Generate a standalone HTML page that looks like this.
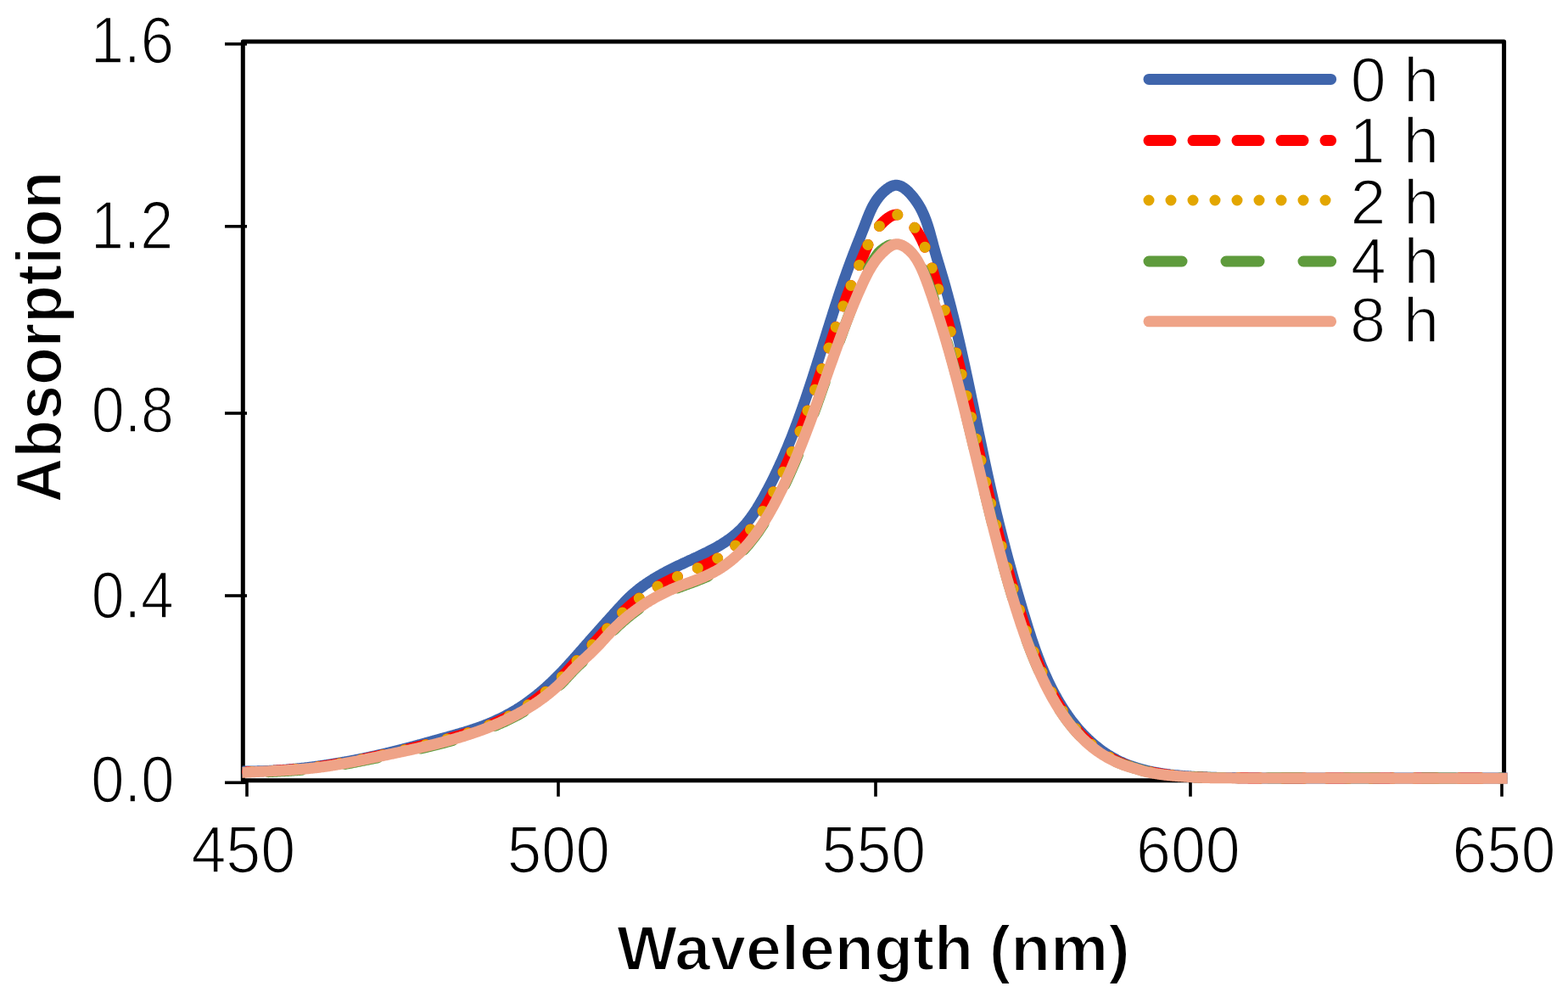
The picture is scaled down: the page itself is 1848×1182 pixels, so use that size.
<!DOCTYPE html>
<html><head><meta charset="utf-8"><style>
html,body{margin:0;padding:0;background:#fff;}
body{width:1848px;height:1182px;overflow:hidden;}
svg{display:block;}
text{font-family:"Liberation Sans", sans-serif;fill:#000;}
</style></head><body>
<svg width="1848" height="1182" viewBox="0 0 1848 1182">
<rect width="1848" height="1182" fill="#fff"/>
<text transform="matrix(0.7072 0 0 0.7768 106.74 73.80)" font-size="100" stroke="#fff" stroke-width="2.2">1.6</text>
<text transform="matrix(0.7000 0 0 0.7912 106.90 293.49)" font-size="100" stroke="#fff" stroke-width="2.2">1.2</text>
<text transform="matrix(0.6992 0 0 0.7667 107.80 508.90)" font-size="100" stroke="#fff" stroke-width="2.2">0.8</text>
<text transform="matrix(0.6969 0 0 0.7725 107.82 727.80)" font-size="100" stroke="#fff" stroke-width="2.2">0.4</text>
<text transform="matrix(0.7054 0 0 0.7725 107.37 944.70)" font-size="100" stroke="#fff" stroke-width="2.2">0.0</text>
<text transform="matrix(0.7365 0 0 0.7797 225.39 1028.00)" font-size="100" stroke="#fff" stroke-width="2.2">450</text>
<text transform="matrix(0.7269 0 0 0.7768 597.74 1027.50)" font-size="100" stroke="#fff" stroke-width="2.2">500</text>
<text transform="matrix(0.7359 0 0 0.7768 968.48 1027.50)" font-size="100" stroke="#fff" stroke-width="2.2">550</text>
<text transform="matrix(0.7353 0 0 0.7768 1338.99 1027.50)" font-size="100" stroke="#fff" stroke-width="2.2">600</text>
<text transform="matrix(0.7314 0 0 0.7768 1711.51 1027.70)" font-size="100" stroke="#fff" stroke-width="2.2">650</text>
<text transform="matrix(0.7538 0 0 0.7467 726.89 1143.27)" font-size="100" font-weight="bold" stroke="#fff" stroke-width="2.6">Wavelength</text>
<text transform="matrix(0.7672 0 0 0.7641 1165.70 1144.02)" font-size="100" font-weight="bold" stroke="#fff" stroke-width="2.6">(nm)</text>
<text transform="matrix(0.7516 0 0 0.7403 1591.64 119.80)" font-size="100" stroke="#fff" stroke-width="2.2">0 h</text>
<text transform="matrix(0.7615 0 0 0.7577 1590.35 191.56)" font-size="100" stroke="#fff" stroke-width="2.2">1 h</text>
<text transform="matrix(0.7528 0 0 0.7493 1591.48 263.75)" font-size="100" stroke="#fff" stroke-width="2.2">2 h</text>
<text transform="matrix(0.7492 0 0 0.7557 1591.95 334.31)" font-size="100" stroke="#fff" stroke-width="2.2">4 h</text>
<text transform="matrix(0.7560 0 0 0.7403 1591.06 403.30)" font-size="100" stroke="#fff" stroke-width="2.2">8 h</text>
<text transform="translate(71.84 592.46) rotate(-90) scale(0.7328 0.7630)" font-size="100" font-weight="bold" stroke="#fff" stroke-width="2.6">Absorption</text>
<!-- frame -->
<rect x="286.3" y="49" width="1486.3" height="870.7" fill="none" stroke="#000" stroke-width="5" stroke-linejoin="round"/>
<g stroke="#000" stroke-width="3.6">
<line x1="265" y1="51.85" x2="291" y2="51.85"/>
<line x1="265" y1="266.8" x2="291" y2="266.8"/>
<line x1="265" y1="487" x2="291" y2="487"/>
<line x1="265" y1="702" x2="291" y2="702"/>
<line x1="265" y1="922.3" x2="291" y2="922.3"/>
<line x1="291" y1="918" x2="291" y2="938.7"/>
<line x1="658" y1="918" x2="658" y2="938.7"/>
<line x1="1032" y1="918" x2="1032" y2="938.7"/>
<line x1="1403" y1="918" x2="1403" y2="938.7"/>
<line x1="1770" y1="918" x2="1770" y2="938.7"/>
</g>
<!-- series -->
<g fill="none" stroke-width="13.0" stroke-linejoin="round">
<path d="M285.5,909.0 L286.0,909.0 L287.0,909.0 L288.0,909.0 L289.0,909.0 L290.0,909.0 L291.0,909.0 L292.0,909.0 L293.0,909.0 L294.0,909.0 L295.0,909.0 L296.0,909.0 L297.0,909.0 L298.0,909.0 L299.0,908.9 L300.0,908.9 L301.0,908.9 L302.0,908.9 L303.0,908.9 L304.0,908.8 L305.0,908.8 L306.0,908.8 L307.0,908.8 L308.0,908.7 L309.0,908.7 L310.0,908.7 L311.0,908.6 L312.0,908.6 L313.0,908.5 L314.0,908.5 L315.0,908.5 L316.0,908.4 L317.0,908.4 L318.0,908.3 L319.0,908.3 L320.0,908.2 L321.0,908.2 L322.0,908.1 L323.0,908.1 L324.0,908.0 L325.0,907.9 L326.0,907.9 L327.0,907.8 L328.0,907.8 L329.0,907.7 L330.0,907.6 L331.0,907.6 L332.0,907.5 L333.0,907.4 L334.0,907.3 L335.0,907.3 L336.0,907.2 L337.0,907.1 L338.0,907.0 L339.0,906.9 L340.0,906.9 L341.0,906.8 L342.0,906.7 L343.0,906.6 L344.0,906.5 L345.0,906.4 L346.0,906.3 L347.0,906.2 L348.0,906.1 L349.0,906.0 L350.0,905.9 L351.0,905.8 L352.0,905.7 L353.0,905.6 L354.0,905.5 L355.0,905.4 L356.0,905.3 L357.0,905.2 L358.0,905.1 L359.0,905.0 L360.0,904.9 L361.0,904.7 L362.0,904.6 L363.0,904.5 L364.0,904.4 L365.0,904.3 L366.0,904.1 L367.0,904.0 L368.0,903.9 L369.0,903.8 L370.0,903.6 L371.0,903.5 L372.0,903.4 L373.0,903.2 L374.0,903.1 L375.0,903.0 L376.0,902.8 L377.0,902.7 L378.0,902.5 L379.0,902.4 L380.0,902.3 L381.0,902.1 L382.0,902.0 L383.0,901.8 L384.0,901.7 L385.0,901.5 L386.0,901.4 L387.0,901.2 L388.0,901.1 L389.0,900.9 L390.0,900.8 L391.0,900.6 L392.0,900.4 L393.0,900.3 L394.0,900.1 L395.0,899.9 L396.0,899.8 L397.0,899.6 L398.0,899.4 L399.0,899.3 L400.0,899.1 L401.0,898.9 L402.0,898.8 L403.0,898.6 L404.0,898.4 L405.0,898.2 L406.0,898.1 L407.0,897.9 L408.0,897.7 L409.0,897.5 L410.0,897.3 L411.0,897.1 L412.0,897.0 L413.0,896.8 L414.0,896.6 L415.0,896.4 L416.0,896.2 L417.0,896.0 L418.0,895.8 L419.0,895.6 L420.0,895.4 L421.0,895.2 L422.0,895.0 L423.0,894.8 L424.0,894.6 L425.0,894.4 L426.0,894.2 L427.0,894.0 L428.0,893.8 L429.0,893.6 L430.0,893.4 L431.0,893.2 L432.0,893.0 L433.0,892.8 L434.0,892.5 L435.0,892.3 L436.0,892.1 L437.0,891.9 L438.0,891.7 L439.0,891.5 L440.0,891.2 L441.0,891.0 L442.0,890.8 L443.0,890.6 L444.0,890.4 L445.0,890.1 L446.0,889.9 L447.0,889.7 L448.0,889.4 L449.0,889.2 L450.0,889.0 L451.0,888.8 L452.0,888.5 L453.0,888.3 L454.0,888.0 L455.0,887.8 L456.0,887.6 L457.0,887.3 L458.0,887.1 L459.0,886.9 L460.0,886.6 L461.0,886.4 L462.0,886.1 L463.0,885.9 L464.0,885.6 L465.0,885.4 L466.0,885.1 L467.0,884.9 L468.0,884.6 L469.0,884.4 L470.0,884.1 L471.0,883.9 L472.0,883.6 L473.0,883.4 L474.0,883.1 L475.0,882.9 L476.0,882.6 L477.0,882.3 L478.0,882.1 L479.0,881.8 L480.0,881.6 L481.0,881.3 L482.0,881.0 L483.0,880.8 L484.0,880.5 L485.0,880.2 L486.0,880.0 L487.0,879.7 L488.0,879.4 L489.0,879.2 L490.0,878.9 L491.0,878.6 L492.0,878.4 L493.0,878.1 L494.0,877.8 L495.0,877.5 L496.0,877.3 L497.0,877.0 L498.0,876.7 L499.0,876.4 L500.0,876.2 L501.0,875.9 L502.0,875.6 L503.0,875.3 L504.0,875.1 L505.0,874.8 L506.0,874.5 L507.0,874.2 L508.0,873.9 L509.0,873.7 L510.0,873.4 L511.0,873.1 L512.0,872.8 L513.0,872.6 L514.0,872.3 L515.0,872.0 L516.0,871.7 L517.0,871.4 L518.0,871.2 L519.0,870.9 L520.0,870.6 L521.0,870.3 L522.0,870.1 L523.0,869.8 L524.0,869.5 L525.0,869.2 L526.0,869.0 L527.0,868.7 L528.0,868.4 L529.0,868.1 L530.0,867.8 L531.0,867.6 L532.0,867.3 L533.0,867.0 L534.0,866.7 L535.0,866.4 L536.0,866.2 L537.0,865.9 L538.0,865.6 L539.0,865.3 L540.0,865.0 L541.0,864.7 L542.0,864.4 L543.0,864.1 L544.0,863.8 L545.0,863.6 L546.0,863.3 L547.0,863.0 L548.0,862.7 L549.0,862.3 L550.0,862.0 L551.0,861.7 L552.0,861.4 L553.0,861.1 L554.0,860.8 L555.0,860.5 L556.0,860.1 L557.0,859.8 L558.0,859.5 L559.0,859.1 L560.0,858.8 L561.0,858.4 L562.0,858.1 L563.0,857.7 L564.0,857.4 L565.0,857.0 L566.0,856.7 L567.0,856.3 L568.0,855.9 L569.0,855.6 L570.0,855.2 L571.0,854.8 L572.0,854.4 L573.0,854.0 L574.0,853.6 L575.0,853.2 L576.0,852.8 L577.0,852.4 L578.0,852.0 L579.0,851.5 L580.0,851.1 L581.0,850.7 L582.0,850.2 L583.0,849.8 L584.0,849.3 L585.0,848.9 L586.0,848.4 L587.0,847.9 L588.0,847.5 L589.0,847.0 L590.0,846.5 L591.0,846.0 L592.0,845.5 L593.0,845.0 L594.0,844.5 L595.0,844.0 L596.0,843.5 L597.0,842.9 L598.0,842.4 L599.0,841.9 L600.0,841.3 L601.0,840.8 L602.0,840.2 L603.0,839.6 L604.0,839.1 L605.0,838.5 L606.0,837.9 L607.0,837.3 L608.0,836.7 L609.0,836.1 L610.0,835.4 L611.0,834.8 L612.0,834.2 L613.0,833.5 L614.0,832.9 L615.0,832.2 L616.0,831.5 L617.0,830.9 L618.0,830.2 L619.0,829.5 L620.0,828.8 L621.0,828.1 L622.0,827.4 L623.0,826.7 L624.0,825.9 L625.0,825.2 L626.0,824.4 L627.0,823.7 L628.0,822.9 L629.0,822.2 L630.0,821.4 L631.0,820.6 L632.0,819.8 L633.0,819.0 L634.0,818.2 L635.0,817.4 L636.0,816.5 L637.0,815.7 L638.0,814.8 L639.0,814.0 L640.0,813.1 L641.0,812.3 L642.0,811.4 L643.0,810.5 L644.0,809.6 L645.0,808.7 L646.0,807.8 L647.0,806.9 L648.0,805.9 L649.0,805.0 L650.0,804.0 L651.0,803.1 L652.0,802.1 L653.0,801.1 L654.0,800.2 L655.0,799.2 L656.0,798.2 L657.0,797.2 L658.0,796.1 L659.0,795.1 L660.0,794.1 L661.0,793.1 L662.0,792.0 L663.0,791.0 L664.0,789.9 L665.0,788.8 L666.0,787.8 L667.0,786.7 L668.0,785.6 L669.0,784.5 L670.0,783.4 L671.0,782.3 L672.0,781.2 L673.0,780.1 L674.0,779.0 L675.0,777.9 L676.0,776.8 L677.0,775.7 L678.0,774.5 L679.0,773.4 L680.0,772.3 L681.0,771.2 L682.0,770.0 L683.0,768.9 L684.0,767.7 L685.0,766.6 L686.0,765.5 L687.0,764.3 L688.0,763.2 L689.0,762.0 L690.0,760.9 L691.0,759.7 L692.0,758.6 L693.0,757.5 L694.0,756.3 L695.0,755.2 L696.0,754.0 L697.0,752.9 L698.0,751.8 L699.0,750.6 L700.0,749.5 L701.0,748.4 L702.0,747.3 L703.0,746.1 L704.0,745.0 L705.0,743.9 L706.0,742.8 L707.0,741.6 L708.0,740.5 L709.0,739.4 L710.0,738.3 L711.0,737.2 L712.0,736.1 L713.0,735.0 L714.0,733.8 L715.0,732.7 L716.0,731.6 L717.0,730.5 L718.0,729.4 L719.0,728.3 L720.0,727.2 L721.0,726.1 L722.0,725.0 L723.0,723.9 L724.0,722.7 L725.0,721.6 L726.0,720.5 L727.0,719.4 L728.0,718.3 L729.0,717.2 L730.0,716.1 L731.0,715.0 L732.0,714.0 L733.0,712.9 L734.0,711.8 L735.0,710.8 L736.0,709.7 L737.0,708.7 L738.0,707.7 L739.0,706.7 L740.0,705.7 L741.0,704.7 L742.0,703.7 L743.0,702.8 L744.0,701.9 L745.0,700.9 L746.0,700.1 L747.0,699.2 L748.0,698.3 L749.0,697.5 L750.0,696.6 L751.0,695.8 L752.0,695.0 L753.0,694.2 L754.0,693.4 L755.0,692.7 L756.0,691.9 L757.0,691.2 L758.0,690.4 L759.0,689.7 L760.0,689.0 L761.0,688.3 L762.0,687.6 L763.0,687.0 L764.0,686.3 L765.0,685.6 L766.0,685.0 L767.0,684.3 L768.0,683.7 L769.0,683.1 L770.0,682.4 L771.0,681.8 L772.0,681.2 L773.0,680.6 L774.0,680.0 L775.0,679.5 L776.0,678.9 L777.0,678.3 L778.0,677.7 L779.0,677.2 L780.0,676.6 L781.0,676.1 L782.0,675.5 L783.0,675.0 L784.0,674.5 L785.0,673.9 L786.0,673.4 L787.0,672.9 L788.0,672.4 L789.0,671.9 L790.0,671.4 L791.0,670.9 L792.0,670.4 L793.0,669.9 L794.0,669.4 L795.0,668.9 L796.0,668.4 L797.0,667.9 L798.0,667.4 L799.0,666.9 L800.0,666.5 L801.0,666.0 L802.0,665.5 L803.0,665.0 L804.0,664.6 L805.0,664.1 L806.0,663.6 L807.0,663.2 L808.0,662.7 L809.0,662.3 L810.0,661.8 L811.0,661.3 L812.0,660.9 L813.0,660.4 L814.0,660.0 L815.0,659.5 L816.0,659.0 L817.0,658.6 L818.0,658.1 L819.0,657.6 L820.0,657.2 L821.0,656.7 L822.0,656.2 L823.0,655.8 L824.0,655.3 L825.0,654.8 L826.0,654.4 L827.0,653.9 L828.0,653.4 L829.0,652.9 L830.0,652.4 L831.0,651.9 L832.0,651.5 L833.0,651.0 L834.0,650.5 L835.0,649.9 L836.0,649.4 L837.0,648.9 L838.0,648.4 L839.0,647.9 L840.0,647.3 L841.0,646.8 L842.0,646.3 L843.0,645.7 L844.0,645.2 L845.0,644.6 L846.0,644.0 L847.0,643.4 L848.0,642.9 L849.0,642.3 L850.0,641.7 L851.0,641.0 L852.0,640.4 L853.0,639.8 L854.0,639.1 L855.0,638.5 L856.0,637.8 L857.0,637.1 L858.0,636.4 L859.0,635.7 L860.0,635.0 L861.0,634.3 L862.0,633.5 L863.0,632.8 L864.0,632.0 L865.0,631.2 L866.0,630.4 L867.0,629.5 L868.0,628.7 L869.0,627.8 L870.0,626.9 L871.0,625.9 L872.0,625.0 L873.0,624.0 L874.0,623.0 L875.0,621.9 L876.0,620.9 L877.0,619.8 L878.0,618.6 L879.0,617.5 L880.0,616.3 L881.0,615.0 L882.0,613.8 L883.0,612.5 L884.0,611.2 L885.0,609.8 L886.0,608.4 L887.0,607.0 L888.0,605.6 L889.0,604.1 L890.0,602.6 L891.0,601.0 L892.0,599.5 L893.0,597.8 L894.0,596.2 L895.0,594.5 L896.0,592.8 L897.0,591.1 L898.0,589.4 L899.0,587.6 L900.0,585.8 L901.0,584.0 L902.0,582.2 L903.0,580.3 L904.0,578.4 L905.0,576.6 L906.0,574.6 L907.0,572.7 L908.0,570.8 L909.0,568.8 L910.0,566.8 L911.0,564.8 L912.0,562.8 L913.0,560.7 L914.0,558.7 L915.0,556.6 L916.0,554.5 L917.0,552.3 L918.0,550.2 L919.0,548.0 L920.0,545.8 L921.0,543.6 L922.0,541.4 L923.0,539.1 L924.0,536.8 L925.0,534.5 L926.0,532.1 L927.0,529.8 L928.0,527.4 L929.0,525.0 L930.0,522.5 L931.0,520.1 L932.0,517.6 L933.0,515.1 L934.0,512.5 L935.0,510.0 L936.0,507.4 L937.0,504.8 L938.0,502.1 L939.0,499.5 L940.0,496.8 L941.0,494.1 L942.0,491.3 L943.0,488.6 L944.0,485.8 L945.0,483.0 L946.0,480.1 L947.0,477.3 L948.0,474.4 L949.0,471.5 L950.0,468.5 L951.0,465.6 L952.0,462.6 L953.0,459.6 L954.0,456.6 L955.0,453.6 L956.0,450.5 L957.0,447.5 L958.0,444.4 L959.0,441.3 L960.0,438.2 L961.0,435.0 L962.0,431.9 L963.0,428.7 L964.0,425.6 L965.0,422.4 L966.0,419.2 L967.0,416.0 L968.0,412.9 L969.0,409.7 L970.0,406.5 L971.0,403.3 L972.0,400.1 L973.0,396.9 L974.0,393.7 L975.0,390.5 L976.0,387.3 L977.0,384.1 L978.0,380.9 L979.0,377.8 L980.0,374.6 L981.0,371.5 L982.0,368.3 L983.0,365.2 L984.0,362.1 L985.0,359.1 L986.0,356.0 L987.0,352.9 L988.0,349.9 L989.0,346.9 L990.0,343.9 L991.0,340.9 L992.0,338.0 L993.0,335.1 L994.0,332.1 L995.0,329.3 L996.0,326.4 L997.0,323.6 L998.0,320.8 L999.0,318.0 L1000.0,315.2 L1001.0,312.5 L1002.0,309.8 L1003.0,307.1 L1004.0,304.4 L1005.0,301.8 L1006.0,299.2 L1007.0,296.6 L1008.0,294.0 L1009.0,291.5 L1010.0,288.9 L1011.0,286.4 L1012.0,283.8 L1013.0,281.3 L1014.0,278.8 L1015.0,276.2 L1016.0,273.7 L1017.0,271.2 L1018.0,268.6 L1019.0,266.0 L1020.0,263.4 L1021.0,260.8 L1022.0,258.2 L1023.0,255.7 L1024.0,253.2 L1025.0,250.8 L1026.0,248.5 L1027.0,246.4 L1028.0,244.3 L1029.0,242.4 L1030.0,240.6 L1031.0,239.0 L1032.0,237.4 L1033.0,235.9 L1034.0,234.5 L1035.0,233.1 L1036.0,231.9 L1037.0,230.7 L1038.0,229.5 L1039.0,228.4 L1040.0,227.4 L1041.0,226.4 L1042.0,225.5 L1043.0,224.6 L1044.0,223.8 L1045.0,223.0 L1046.0,222.2 L1047.0,221.6 L1048.0,220.9 L1049.0,220.3 L1050.0,219.8 L1051.0,219.4 L1052.0,219.0 L1053.0,218.7 L1054.0,218.5 L1055.0,218.3 L1056.0,218.2 L1057.0,218.3 L1058.0,218.4 L1059.0,218.6 L1060.0,218.8 L1061.0,219.2 L1062.0,219.6 L1063.0,220.1 L1064.0,220.7 L1065.0,221.3 L1066.0,222.0 L1067.0,222.8 L1068.0,223.6 L1069.0,224.5 L1070.0,225.4 L1071.0,226.4 L1072.0,227.5 L1073.0,228.5 L1074.0,229.6 L1075.0,230.8 L1076.0,232.0 L1077.0,233.3 L1078.0,234.6 L1079.0,236.0 L1080.0,237.4 L1081.0,238.9 L1082.0,240.4 L1083.0,242.0 L1084.0,243.7 L1085.0,245.5 L1086.0,247.4 L1087.0,249.5 L1088.0,251.6 L1089.0,253.9 L1090.0,256.3 L1091.0,258.9 L1092.0,261.6 L1093.0,264.5 L1094.0,267.7 L1095.0,271.0 L1096.0,274.4 L1097.0,278.1 L1098.0,281.8 L1099.0,285.5 L1100.0,289.3 L1101.0,292.9 L1102.0,296.5 L1103.0,300.0 L1104.0,303.4 L1105.0,306.8 L1106.0,310.1 L1107.0,313.4 L1108.0,316.8 L1109.0,320.1 L1110.0,323.5 L1111.0,326.9 L1112.0,330.4 L1113.0,333.9 L1114.0,337.4 L1115.0,341.0 L1116.0,344.7 L1117.0,348.3 L1118.0,352.1 L1119.0,355.8 L1120.0,359.7 L1121.0,363.5 L1122.0,367.5 L1123.0,371.4 L1124.0,375.4 L1125.0,379.5 L1126.0,383.6 L1127.0,387.8 L1128.0,392.0 L1129.0,396.2 L1130.0,400.5 L1131.0,404.8 L1132.0,409.2 L1133.0,413.6 L1134.0,418.1 L1135.0,422.6 L1136.0,427.1 L1137.0,431.7 L1138.0,436.3 L1139.0,441.0 L1140.0,445.7 L1141.0,450.4 L1142.0,455.1 L1143.0,459.9 L1144.0,464.7 L1145.0,469.5 L1146.0,474.3 L1147.0,479.1 L1148.0,484.0 L1149.0,488.8 L1150.0,493.7 L1151.0,498.5 L1152.0,503.3 L1153.0,508.2 L1154.0,513.0 L1155.0,517.8 L1156.0,522.6 L1157.0,527.4 L1158.0,532.2 L1159.0,536.9 L1160.0,541.6 L1161.0,546.3 L1162.0,550.9 L1163.0,555.6 L1164.0,560.1 L1165.0,564.7 L1166.0,569.2 L1167.0,573.6 L1168.0,578.1 L1169.0,582.4 L1170.0,586.8 L1171.0,591.1 L1172.0,595.3 L1173.0,599.5 L1174.0,603.7 L1175.0,607.8 L1176.0,611.9 L1177.0,616.0 L1178.0,620.0 L1179.0,624.0 L1180.0,628.0 L1181.0,631.9 L1182.0,635.8 L1183.0,639.7 L1184.0,643.5 L1185.0,647.3 L1186.0,651.1 L1187.0,654.9 L1188.0,658.6 L1189.0,662.3 L1190.0,666.0 L1191.0,669.6 L1192.0,673.3 L1193.0,676.9 L1194.0,680.5 L1195.0,684.0 L1196.0,687.6 L1197.0,691.1 L1198.0,694.6 L1199.0,698.0 L1200.0,701.5 L1201.0,704.9 L1202.0,708.4 L1203.0,711.7 L1204.0,715.1 L1205.0,718.5 L1206.0,721.8 L1207.0,725.1 L1208.0,728.4 L1209.0,731.7 L1210.0,735.0 L1211.0,738.2 L1212.0,741.4 L1213.0,744.5 L1214.0,747.6 L1215.0,750.7 L1216.0,753.7 L1217.0,756.6 L1218.0,759.6 L1219.0,762.4 L1220.0,765.3 L1221.0,768.1 L1222.0,770.8 L1223.0,773.5 L1224.0,776.1 L1225.0,778.7 L1226.0,781.3 L1227.0,783.8 L1228.0,786.2 L1229.0,788.6 L1230.0,791.0 L1231.0,793.3 L1232.0,795.6 L1233.0,797.8 L1234.0,800.0 L1235.0,802.2 L1236.0,804.3 L1237.0,806.4 L1238.0,808.4 L1239.0,810.4 L1240.0,812.4 L1241.0,814.3 L1242.0,816.2 L1243.0,818.1 L1244.0,819.9 L1245.0,821.7 L1246.0,823.5 L1247.0,825.2 L1248.0,827.0 L1249.0,828.6 L1250.0,830.3 L1251.0,831.9 L1252.0,833.5 L1253.0,835.1 L1254.0,836.6 L1255.0,838.1 L1256.0,839.6 L1257.0,841.1 L1258.0,842.5 L1259.0,844.0 L1260.0,845.4 L1261.0,846.7 L1262.0,848.1 L1263.0,849.4 L1264.0,850.7 L1265.0,852.0 L1266.0,853.2 L1267.0,854.5 L1268.0,855.7 L1269.0,856.9 L1270.0,858.1 L1271.0,859.3 L1272.0,860.4 L1273.0,861.5 L1274.0,862.6 L1275.0,863.7 L1276.0,864.8 L1277.0,865.8 L1278.0,866.9 L1279.0,867.9 L1280.0,868.9 L1281.0,869.9 L1282.0,870.8 L1283.0,871.8 L1284.0,872.7 L1285.0,873.6 L1286.0,874.5 L1287.0,875.4 L1288.0,876.3 L1289.0,877.2 L1290.0,878.0 L1291.0,878.8 L1292.0,879.6 L1293.0,880.4 L1294.0,881.2 L1295.0,882.0 L1296.0,882.8 L1297.0,883.5 L1298.0,884.3 L1299.0,885.0 L1300.0,885.7 L1301.0,886.4 L1302.0,887.1 L1303.0,887.7 L1304.0,888.4 L1305.0,889.1 L1306.0,889.7 L1307.0,890.3 L1308.0,890.9 L1309.0,891.5 L1310.0,892.1 L1311.0,892.7 L1312.0,893.3 L1313.0,893.8 L1314.0,894.4 L1315.0,894.9 L1316.0,895.5 L1317.0,896.0 L1318.0,896.5 L1319.0,897.0 L1320.0,897.5 L1321.0,898.0 L1322.0,898.4 L1323.0,898.9 L1324.0,899.3 L1325.0,899.8 L1326.0,900.2 L1327.0,900.6 L1328.0,901.0 L1329.0,901.4 L1330.0,901.7 L1331.0,902.1 L1332.0,902.5 L1333.0,902.8 L1334.0,903.1 L1335.0,903.5 L1336.0,903.8 L1337.0,904.1 L1338.0,904.4 L1339.0,904.8 L1340.0,905.1 L1341.0,905.4 L1342.0,905.7 L1343.0,905.9 L1344.0,906.2 L1345.0,906.5 L1346.0,906.8 L1347.0,907.0 L1348.0,907.3 L1349.0,907.6 L1350.0,907.8 L1351.0,908.1 L1352.0,908.3 L1353.0,908.5 L1354.0,908.8 L1355.0,909.0 L1356.0,909.2 L1357.0,909.4 L1358.0,909.6 L1359.0,909.8 L1360.0,910.0 L1361.0,910.2 L1362.0,910.4 L1363.0,910.6 L1364.0,910.7 L1365.0,910.9 L1366.0,911.1 L1367.0,911.3 L1368.0,911.4 L1369.0,911.6 L1370.0,911.8 L1371.0,911.9 L1372.0,912.1 L1373.0,912.2 L1374.0,912.3 L1375.0,912.5 L1376.0,912.6 L1377.0,912.7 L1378.0,912.9 L1379.0,913.0 L1380.0,913.1 L1381.0,913.2 L1382.0,913.3 L1383.0,913.4 L1384.0,913.5 L1385.0,913.6 L1386.0,913.7 L1387.0,913.8 L1388.0,913.8 L1389.0,913.9 L1390.0,914.0 L1391.0,914.1 L1392.0,914.2 L1393.0,914.3 L1394.0,914.4 L1395.0,914.4 L1396.0,914.5 L1397.0,914.6 L1398.0,914.7 L1399.0,914.8 L1400.0,914.8 L1401.0,914.9 L1402.0,915.0 L1403.0,915.1 L1404.0,915.1 L1405.0,915.2 L1406.0,915.3 L1407.0,915.3 L1408.0,915.4 L1409.0,915.5 L1410.0,915.5 L1411.0,915.6 L1412.0,915.6 L1413.0,915.7 L1414.0,915.7 L1415.0,915.8 L1416.0,915.8 L1417.0,915.9 L1418.0,915.9 L1419.0,916.0 L1420.0,916.0 L1421.0,916.1 L1422.0,916.1 L1423.0,916.1 L1424.0,916.2 L1425.0,916.2 L1426.0,916.2 L1427.0,916.2 L1428.0,916.3 L1429.0,916.3 L1430.0,916.3 L1431.0,916.3 L1432.0,916.3 L1433.0,916.3 L1434.0,916.4 L1435.0,916.4 L1436.0,916.4 L1437.0,916.4 L1438.0,916.4 L1439.0,916.4 L1440.0,916.4 L1441.0,916.5 L1442.0,916.5 L1443.0,916.5 L1444.0,916.5 L1445.0,916.5 L1446.0,916.5 L1447.0,916.5 L1448.0,916.6 L1449.0,916.6 L1450.0,916.6 L1451.0,916.6 L1452.0,916.6 L1453.0,916.6 L1454.0,916.6 L1455.0,916.6 L1456.0,916.6 L1457.0,916.7 L1458.0,916.7 L1459.0,916.7 L1460.0,916.7 L1461.0,916.7 L1462.0,916.7 L1463.0,916.7 L1464.0,916.7 L1465.0,916.7 L1466.0,916.7 L1467.0,916.7 L1468.0,916.7 L1469.0,916.8 L1470.0,916.8 L1471.0,916.8 L1472.0,916.8 L1473.0,916.8 L1474.0,916.8 L1475.0,916.8 L1476.0,916.8 L1477.0,916.8 L1478.0,916.8 L1479.0,916.8 L1480.0,916.8 L1481.0,916.8 L1482.0,916.8 L1483.0,916.8 L1484.0,916.8 L1485.0,916.9 L1486.0,916.9 L1487.0,916.9 L1488.0,916.9 L1489.0,916.9 L1490.0,916.9 L1491.0,916.9 L1492.0,916.9 L1493.0,916.9 L1494.0,916.9 L1495.0,916.9 L1496.0,916.9 L1497.0,916.9 L1498.0,916.9 L1499.0,916.9 L1500.0,916.9 L1501.0,916.9 L1502.0,916.9 L1503.0,916.9 L1504.0,916.9 L1505.0,916.9 L1506.0,916.9 L1507.0,916.9 L1508.0,916.9 L1509.0,916.9 L1510.0,916.9 L1511.0,916.9 L1512.0,916.9 L1513.0,916.9 L1514.0,916.9 L1515.0,916.9 L1516.0,916.9 L1517.0,916.9 L1518.0,916.9 L1519.0,916.9 L1520.0,916.9 L1521.0,916.9 L1522.0,916.9 L1523.0,916.9 L1524.0,916.9 L1525.0,916.9 L1526.0,916.9 L1527.0,916.9 L1528.0,916.9 L1529.0,916.9 L1530.0,916.9 L1531.0,916.9 L1532.0,916.9 L1533.0,916.9 L1534.0,917.0 L1535.0,917.0 L1536.0,917.0 L1537.0,917.0 L1538.0,917.0 L1539.0,917.0 L1540.0,917.0 L1541.0,917.0 L1542.0,917.0 L1543.0,917.0 L1544.0,917.0 L1545.0,917.0 L1546.0,917.0 L1547.0,917.0 L1548.0,917.0 L1549.0,917.0 L1550.0,917.0 L1551.0,917.0 L1552.0,917.0 L1553.0,917.0 L1554.0,917.0 L1555.0,917.0 L1556.0,917.0 L1557.0,917.0 L1558.0,917.0 L1559.0,917.0 L1560.0,917.0 L1561.0,917.0 L1562.0,917.0 L1563.0,917.0 L1564.0,917.0 L1565.0,917.0 L1566.0,917.0 L1567.0,917.0 L1568.0,917.0 L1569.0,917.0 L1570.0,917.0 L1571.0,917.0 L1572.0,917.0 L1573.0,917.0 L1574.0,917.0 L1575.0,917.0 L1576.0,917.0 L1577.0,917.0 L1578.0,917.0 L1579.0,917.0 L1580.0,917.0 L1581.0,917.0 L1582.0,917.0 L1583.0,917.0 L1584.0,917.0 L1585.0,917.0 L1586.0,917.0 L1587.0,917.0 L1588.0,917.0 L1589.0,917.0 L1590.0,917.0 L1591.0,917.0 L1592.0,917.0 L1593.0,917.0 L1594.0,917.0 L1595.0,917.0 L1596.0,917.0 L1597.0,917.0 L1598.0,917.0 L1599.0,917.0 L1600.0,917.0 L1601.0,917.0 L1602.0,917.0 L1603.0,917.0 L1604.0,917.0 L1605.0,917.0 L1606.0,917.0 L1607.0,917.0 L1608.0,917.0 L1609.0,917.0 L1610.0,917.0 L1611.0,917.0 L1612.0,917.0 L1613.0,917.0 L1614.0,917.0 L1615.0,917.0 L1616.0,917.0 L1617.0,917.0 L1618.0,917.0 L1619.0,917.0 L1620.0,917.0 L1621.0,917.0 L1622.0,917.0 L1623.0,917.0 L1624.0,917.0 L1625.0,917.0 L1626.0,917.0 L1627.0,917.0 L1628.0,917.0 L1629.0,917.0 L1630.0,917.0 L1631.0,917.1 L1632.0,917.1 L1633.0,917.1 L1634.0,917.1 L1635.0,917.1 L1636.0,917.1 L1637.0,917.1 L1638.0,917.1 L1639.0,917.1 L1640.0,917.1 L1641.0,917.1 L1642.0,917.1 L1643.0,917.1 L1644.0,917.1 L1645.0,917.1 L1646.0,917.1 L1647.0,917.1 L1648.0,917.1 L1649.0,917.1 L1650.0,917.1 L1651.0,917.1 L1652.0,917.1 L1653.0,917.1 L1654.0,917.1 L1655.0,917.1 L1656.0,917.1 L1657.0,917.1 L1658.0,917.1 L1659.0,917.1 L1660.0,917.1 L1661.0,917.1 L1662.0,917.1 L1663.0,917.1 L1664.0,917.1 L1665.0,917.1 L1666.0,917.1 L1667.0,917.1 L1668.0,917.1 L1669.0,917.1 L1670.0,917.1 L1671.0,917.1 L1672.0,917.1 L1673.0,917.1 L1674.0,917.1 L1675.0,917.1 L1676.0,917.1 L1677.0,917.1 L1678.0,917.1 L1679.0,917.1 L1680.0,917.1 L1681.0,917.1 L1682.0,917.1 L1683.0,917.1 L1684.0,917.1 L1685.0,917.1 L1686.0,917.1 L1687.0,917.1 L1688.0,917.1 L1689.0,917.1 L1690.0,917.1 L1691.0,917.1 L1692.0,917.1 L1693.0,917.1 L1694.0,917.1 L1695.0,917.1 L1696.0,917.1 L1697.0,917.1 L1698.0,917.1 L1699.0,917.1 L1700.0,917.1 L1701.0,917.1 L1702.0,917.1 L1703.0,917.1 L1704.0,917.1 L1705.0,917.1 L1706.0,917.1 L1707.0,917.1 L1708.0,917.1 L1709.0,917.1 L1710.0,917.1 L1711.0,917.1 L1712.0,917.1 L1713.0,917.1 L1714.0,917.1 L1715.0,917.1 L1716.0,917.1 L1717.0,917.1 L1718.0,917.1 L1719.0,917.1 L1720.0,917.1 L1721.0,917.1 L1722.0,917.1 L1723.0,917.1 L1724.0,917.1 L1725.0,917.1 L1726.0,917.1 L1727.0,917.1 L1728.0,917.1 L1729.0,917.1 L1730.0,917.1 L1731.0,917.1 L1732.0,917.1 L1733.0,917.1 L1734.0,917.1 L1735.0,917.1 L1736.0,917.1 L1737.0,917.1 L1738.0,917.1 L1739.0,917.1 L1740.0,917.1 L1741.0,917.1 L1742.0,917.1 L1743.0,917.1 L1744.0,917.1 L1745.0,917.1 L1746.0,917.1 L1747.0,917.1 L1748.0,917.1 L1749.0,917.1 L1750.0,917.1 L1751.0,917.1 L1752.0,917.1 L1753.0,917.1 L1754.0,917.1 L1755.0,917.1 L1756.0,917.1 L1757.0,917.1 L1758.0,917.1 L1759.0,917.1 L1760.0,917.1 L1761.0,917.1 L1762.0,917.1 L1763.0,917.1 L1764.0,917.1 L1765.0,917.1 L1766.0,917.1 L1767.0,917.1 L1768.0,917.1 L1769.0,917.1 L1770.0,917.1 L1771.0,917.1 L1772.0,917.1 L1773.0,917.1 L1774.0,917.1 L1775.0,917.1 L1776.0,917.1 L1776.7,917.1" stroke="#3F65AC"/>
<path d="M291.5,909.5 L292.0,909.5 L293.0,909.5 L294.0,909.5 L295.0,909.4 L296.0,909.4 L297.0,909.4 L298.0,909.4 L299.0,909.3 L300.0,909.3 L301.0,909.3 L302.0,909.2 L303.0,909.2 L304.0,909.2 L305.0,909.1 L306.0,909.1 L307.0,909.0 L308.0,909.0 L309.0,909.0 L310.0,908.9 L311.0,908.9 L312.0,908.8 L313.0,908.8 L314.0,908.8 L315.0,908.7 L316.0,908.7 L317.0,908.6 L318.0,908.6 L319.0,908.5 L320.0,908.5 L321.0,908.4 L322.0,908.4 L323.0,908.3 L324.0,908.2 L325.0,908.2 L326.0,908.1 L327.0,908.1 L328.0,908.0 L329.0,908.0 L330.0,907.9 L331.0,907.8 L332.0,907.8 L333.0,907.7 L334.0,907.6 L335.0,907.6 L336.0,907.5 L337.0,907.4 L338.0,907.4 L339.0,907.3 L340.0,907.2 L341.0,907.1 L342.0,907.1 L343.0,907.0 L344.0,906.9 L345.0,906.8 L346.0,906.7 L347.0,906.7 L348.0,906.6 L349.0,906.5 L350.0,906.4 L351.0,906.3 L352.0,906.2 L353.0,906.1 L354.0,906.0 L355.0,905.9 L356.0,905.8 L357.0,905.7 L358.0,905.6 L359.0,905.5 L360.0,905.4 L361.0,905.3 L362.0,905.2 L363.0,905.1 L364.0,905.0 L365.0,904.9 L366.0,904.8 L367.0,904.7 L368.0,904.6 L369.0,904.4 L370.0,904.3 L371.0,904.2 L372.0,904.1 L373.0,903.9 L374.0,903.8 L375.0,903.7 L376.0,903.6 L377.0,903.4 L378.0,903.3 L379.0,903.2 L380.0,903.0 L381.0,902.9 L382.0,902.7 L383.0,902.6 L384.0,902.4 L385.0,902.3 L386.0,902.1 L387.0,902.0 L388.0,901.8 L389.0,901.7 L390.0,901.5 L391.0,901.4 L392.0,901.2 L393.0,901.1 L394.0,900.9 L395.0,900.7 L396.0,900.6 L397.0,900.4 L398.0,900.2 L399.0,900.1 L400.0,899.9 L401.0,899.7 L402.0,899.5 L403.0,899.4 L404.0,899.2 L405.0,899.0 L406.0,898.8 L407.0,898.7 L408.0,898.5 L409.0,898.3 L410.0,898.1 L411.0,897.9 L412.0,897.7 L413.0,897.5 L414.0,897.4 L415.0,897.2 L416.0,897.0 L417.0,896.8 L418.0,896.6 L419.0,896.4 L420.0,896.2 L421.0,896.0 L422.0,895.8 L423.0,895.6 L424.0,895.4 L425.0,895.2 L426.0,895.0 L427.0,894.8 L428.0,894.6 L429.0,894.4 L430.0,894.2 L431.0,894.0 L432.0,893.8 L433.0,893.6 L434.0,893.3 L435.0,893.1 L436.0,892.9 L437.0,892.7 L438.0,892.5 L439.0,892.3 L440.0,892.1 L441.0,891.9 L442.0,891.6 L443.0,891.4 L444.0,891.2 L445.0,891.0 L446.0,890.8 L447.0,890.6 L448.0,890.3 L449.0,890.1 L450.0,889.9 L451.0,889.7 L452.0,889.5 L453.0,889.2 L454.0,889.0 L455.0,888.8 L456.0,888.6 L457.0,888.3 L458.0,888.1 L459.0,887.9 L460.0,887.7 L461.0,887.4 L462.0,887.2 L463.0,887.0 L464.0,886.8 L465.0,886.5 L466.0,886.3 L467.0,886.1 L468.0,885.8 L469.0,885.6 L470.0,885.4 L471.0,885.1 L472.0,884.9 L473.0,884.7 L474.0,884.4 L475.0,884.2 L476.0,884.0 L477.0,883.7 L478.0,883.5 L479.0,883.3 L480.0,883.0 L481.0,882.8 L482.0,882.5 L483.0,882.3 L484.0,882.1 L485.0,881.8 L486.0,881.6 L487.0,881.3 L488.0,881.1 L489.0,880.8 L490.0,880.6 L491.0,880.3 L492.0,880.1 L493.0,879.8 L494.0,879.6 L495.0,879.3 L496.0,879.1 L497.0,878.8 L498.0,878.6 L499.0,878.3 L500.0,878.1 L501.0,877.8 L502.0,877.6 L503.0,877.3 L504.0,877.1 L505.0,876.8 L506.0,876.5 L507.0,876.3 L508.0,876.0 L509.0,875.8 L510.0,875.5 L511.0,875.2 L512.0,875.0 L513.0,874.7 L514.0,874.4 L515.0,874.2 L516.0,873.9 L517.0,873.6 L518.0,873.4 L519.0,873.1 L520.0,872.8 L521.0,872.6 L522.0,872.3 L523.0,872.0 L524.0,871.8 L525.0,871.5 L526.0,871.2 L527.0,870.9 L528.0,870.7 L529.0,870.4 L530.0,870.1 L531.0,869.8 L532.0,869.6 L533.0,869.3 L534.0,869.0 L535.0,868.7 L536.0,868.4 L537.0,868.1 L538.0,867.9 L539.0,867.6 L540.0,867.3 L541.0,867.0 L542.0,866.7 L543.0,866.4 L544.0,866.1 L545.0,865.8 L546.0,865.5 L547.0,865.2 L548.0,864.9 L549.0,864.5 L550.0,864.2 L551.0,863.9 L552.0,863.6 L553.0,863.3 L554.0,863.0 L555.0,862.6 L556.0,862.3 L557.0,862.0 L558.0,861.6 L559.0,861.3 L560.0,860.9 L561.0,860.6 L562.0,860.3 L563.0,859.9 L564.0,859.5 L565.0,859.2 L566.0,858.8 L567.0,858.5 L568.0,858.1 L569.0,857.7 L570.0,857.3 L571.0,856.9 L572.0,856.6 L573.0,856.2 L574.0,855.8 L575.0,855.4 L576.0,855.0 L577.0,854.6 L578.0,854.2 L579.0,853.8 L580.0,853.3 L581.0,852.9 L582.0,852.5 L583.0,852.1 L584.0,851.6 L585.0,851.2 L586.0,850.7 L587.0,850.3 L588.0,849.8 L589.0,849.4 L590.0,848.9 L591.0,848.4 L592.0,848.0 L593.0,847.5 L594.0,847.0 L595.0,846.5 L596.0,846.0 L597.0,845.5 L598.0,845.0 L599.0,844.5 L600.0,844.0 L601.0,843.4 L602.0,842.9 L603.0,842.4 L604.0,841.8 L605.0,841.3 L606.0,840.7 L607.0,840.2 L608.0,839.6 L609.0,839.0 L610.0,838.5 L611.0,837.9 L612.0,837.3 L613.0,836.7 L614.0,836.1 L615.0,835.5 L616.0,834.9 L617.0,834.2 L618.0,833.6 L619.0,833.0 L620.0,832.3 L621.0,831.7 L622.0,831.0 L623.0,830.3 L624.0,829.7 L625.0,829.0 L626.0,828.3 L627.0,827.6 L628.0,826.9 L629.0,826.2 L630.0,825.5 L631.0,824.7 L632.0,824.0 L633.0,823.3 L634.0,822.5 L635.0,821.8 L636.0,821.0 L637.0,820.2 L638.0,819.4 L639.0,818.7 L640.0,817.9 L641.0,817.0 L642.0,816.2 L643.0,815.4 L644.0,814.6 L645.0,813.7 L646.0,812.9 L647.0,812.0 L648.0,811.1 L649.0,810.3 L650.0,809.4 L651.0,808.5 L652.0,807.5 L653.0,806.6 L654.0,805.7 L655.0,804.8 L656.0,803.8 L657.0,802.8 L658.0,801.9 L659.0,800.9 L660.0,799.9 L661.0,798.9 L662.0,797.9 L663.0,796.8 L664.0,795.8 L665.0,794.7 L666.0,793.7 L667.0,792.6 L668.0,791.5 L669.0,790.4 L670.0,789.4 L671.0,788.3 L672.0,787.2 L673.0,786.1 L674.0,785.0 L675.0,783.9 L676.0,782.8 L677.0,781.7 L678.0,780.7 L679.0,779.6 L680.0,778.5 L681.0,777.5 L682.0,776.4 L683.0,775.4 L684.0,774.4 L685.0,773.3 L686.0,772.3 L687.0,771.2 L688.0,770.2 L689.0,769.2 L690.0,768.1 L691.0,767.1 L692.0,766.1 L693.0,765.0 L694.0,764.0 L695.0,763.0 L696.0,761.9 L697.0,760.9 L698.0,759.8 L699.0,758.8 L700.0,757.7 L701.0,756.7 L702.0,755.6 L703.0,754.6 L704.0,753.5 L705.0,752.4 L706.0,751.3 L707.0,750.2 L708.0,749.1 L709.0,748.0 L710.0,746.9 L711.0,745.8 L712.0,744.7 L713.0,743.6 L714.0,742.5 L715.0,741.4 L716.0,740.3 L717.0,739.2 L718.0,738.1 L719.0,737.0 L720.0,735.9 L721.0,734.9 L722.0,733.8 L723.0,732.7 L724.0,731.7 L725.0,730.6 L726.0,729.6 L727.0,728.6 L728.0,727.5 L729.0,726.5 L730.0,725.5 L731.0,724.5 L732.0,723.5 L733.0,722.5 L734.0,721.6 L735.0,720.6 L736.0,719.7 L737.0,718.7 L738.0,717.8 L739.0,716.9 L740.0,715.9 L741.0,715.1 L742.0,714.2 L743.0,713.3 L744.0,712.4 L745.0,711.6 L746.0,710.8 L747.0,709.9 L748.0,709.1 L749.0,708.3 L750.0,707.6 L751.0,706.8 L752.0,706.0 L753.0,705.3 L754.0,704.5 L755.0,703.8 L756.0,703.1 L757.0,702.4 L758.0,701.7 L759.0,701.0 L760.0,700.3 L761.0,699.6 L762.0,699.0 L763.0,698.3 L764.0,697.7 L765.0,697.0 L766.0,696.4 L767.0,695.8 L768.0,695.2 L769.0,694.6 L770.0,694.0 L771.0,693.4 L772.0,692.8 L773.0,692.2 L774.0,691.6 L775.0,691.1 L776.0,690.5 L777.0,690.0 L778.0,689.4 L779.0,688.9 L780.0,688.3 L781.0,687.8 L782.0,687.3 L783.0,686.8 L784.0,686.3 L785.0,685.8 L786.0,685.3 L787.0,684.8 L788.0,684.3 L789.0,683.8 L790.0,683.3 L791.0,682.9 L792.0,682.4 L793.0,681.9 L794.0,681.5 L795.0,681.0 L796.0,680.5 L797.0,680.1 L798.0,679.7 L799.0,679.2 L800.0,678.8 L801.0,678.3 L802.0,677.9 L803.0,677.5 L804.0,677.1 L805.0,676.6 L806.0,676.2 L807.0,675.8 L808.0,675.4 L809.0,675.0 L810.0,674.6 L811.0,674.1 L812.0,673.7 L813.0,673.3 L814.0,672.9 L815.0,672.5 L816.0,672.1 L817.0,671.7 L818.0,671.2 L819.0,670.8 L820.0,670.4 L821.0,670.0 L822.0,669.6 L823.0,669.1 L824.0,668.7 L825.0,668.3 L826.0,667.8 L827.0,667.4 L828.0,666.9 L829.0,666.5 L830.0,666.0 L831.0,665.6 L832.0,665.1 L833.0,664.6 L834.0,664.2 L835.0,663.7 L836.0,663.2 L837.0,662.7 L838.0,662.2 L839.0,661.7 L840.0,661.1 L841.0,660.6 L842.0,660.1 L843.0,659.5 L844.0,659.0 L845.0,658.4 L846.0,657.8 L847.0,657.2 L848.0,656.6 L849.0,656.0 L850.0,655.4 L851.0,654.7 L852.0,654.1 L853.0,653.4 L854.0,652.8 L855.0,652.1 L856.0,651.4 L857.0,650.7 L858.0,650.0 L859.0,649.2 L860.0,648.5 L861.0,647.7 L862.0,646.9 L863.0,646.1 L864.0,645.3 L865.0,644.5 L866.0,643.6 L867.0,642.8 L868.0,641.9 L869.0,641.0 L870.0,640.0 L871.0,639.1 L872.0,638.1 L873.0,637.1 L874.0,636.1 L875.0,635.1 L876.0,634.0 L877.0,632.9 L878.0,631.8 L879.0,630.7 L880.0,629.5 L881.0,628.3 L882.0,627.1 L883.0,625.9 L884.0,624.6 L885.0,623.3 L886.0,622.0 L887.0,620.7 L888.0,619.3 L889.0,617.9 L890.0,616.5 L891.0,615.0 L892.0,613.6 L893.0,612.1 L894.0,610.5 L895.0,609.0 L896.0,607.4 L897.0,605.8 L898.0,604.1 L899.0,602.5 L900.0,600.8 L901.0,599.1 L902.0,597.4 L903.0,595.7 L904.0,593.9 L905.0,592.1 L906.0,590.3 L907.0,588.5 L908.0,586.6 L909.0,584.8 L910.0,582.9 L911.0,581.0 L912.0,579.0 L913.0,577.1 L914.0,575.1 L915.0,573.1 L916.0,571.1 L917.0,569.0 L918.0,567.0 L919.0,564.9 L920.0,562.8 L921.0,560.6 L922.0,558.5 L923.0,556.3 L924.0,554.1 L925.0,551.9 L926.0,549.6 L927.0,547.4 L928.0,545.1 L929.0,542.8 L930.0,540.5 L931.0,538.1 L932.0,535.8 L933.0,533.4 L934.0,530.9 L935.0,528.5 L936.0,526.0 L937.0,523.6 L938.0,521.1 L939.0,518.5 L940.0,516.0 L941.0,513.4 L942.0,510.8 L943.0,508.2 L944.0,505.5 L945.0,502.9 L946.0,500.2 L947.0,497.5 L948.0,494.8 L949.0,492.0 L950.0,489.3 L951.0,486.5 L952.0,483.7 L953.0,480.8 L954.0,478.0 L955.0,475.1 L956.0,472.3 L957.0,469.4 L958.0,466.5 L959.0,463.5 L960.0,460.6 L961.0,457.7 L962.0,454.7 L963.0,451.7 L964.0,448.8 L965.0,445.8 L966.0,442.8 L967.0,439.8 L968.0,436.8 L969.0,433.8 L970.0,430.7 L971.0,427.7 L972.0,424.7 L973.0,421.7 L974.0,418.7 L975.0,415.7 L976.0,412.7 L977.0,409.7 L978.0,406.7 L979.0,403.7 L980.0,400.7 L981.0,397.7 L982.0,394.8 L983.0,391.8 L984.0,388.9 L985.0,386.0 L986.0,383.1 L987.0,380.2 L988.0,377.3 L989.0,374.4 L990.0,371.6 L991.0,368.8 L992.0,366.0 L993.0,363.2 L994.0,360.4 L995.0,357.7 L996.0,354.9 L997.0,352.2 L998.0,349.5 L999.0,346.9 L1000.0,344.2 L1001.0,341.6 L1002.0,339.0 L1003.0,336.4 L1004.0,333.9 L1005.0,331.3 L1006.0,328.8 L1007.0,326.3 L1008.0,323.9 L1009.0,321.4 L1010.0,319.0 L1011.0,316.6 L1012.0,314.1 L1013.0,311.7 L1014.0,309.3 L1015.0,307.0 L1016.0,304.6 L1017.0,302.2 L1018.0,299.9 L1019.0,297.5 L1020.0,295.2 L1021.0,292.9 L1022.0,290.6 L1023.0,288.4 L1024.0,286.3 L1025.0,284.2 L1026.0,282.2 L1027.0,280.3 L1028.0,278.5 L1029.0,276.8 L1030.0,275.1 L1031.0,273.6 L1032.0,272.1 L1033.0,270.7 L1034.0,269.4 L1035.0,268.1 L1036.0,266.9 L1037.0,265.8 L1038.0,264.7 L1039.0,263.6 L1040.0,262.6 L1041.0,261.6 L1042.0,260.7 L1043.0,259.8 L1044.0,258.9 L1045.0,258.1 L1046.0,257.3 L1047.0,256.6 L1048.0,256.0 L1049.0,255.4 L1050.0,254.8 L1051.0,254.3 L1052.0,253.9 L1053.0,253.6 L1054.0,253.3 L1055.0,253.1 L1056.0,253.0 L1057.0,253.0 L1058.0,253.1 L1059.0,253.2 L1060.0,253.4 L1061.0,253.8 L1062.0,254.1 L1063.0,254.6 L1064.0,255.1 L1065.0,255.7 L1066.0,256.4 L1067.0,257.1 L1068.0,257.8 L1069.0,258.6 L1070.0,259.5 L1071.0,260.4 L1072.0,261.4 L1073.0,262.4 L1074.0,263.5 L1075.0,264.6 L1076.0,265.8 L1077.0,267.1 L1078.0,268.4 L1079.0,269.8 L1080.0,271.3 L1081.0,272.8 L1082.0,274.4 L1083.0,276.2 L1084.0,278.0 L1085.0,279.9 L1086.0,281.9 L1087.0,284.0 L1088.0,286.2 L1089.0,288.6 L1090.0,291.0 L1091.0,293.6 L1092.0,296.3 L1093.0,299.1 L1094.0,302.1 L1095.0,305.2 L1096.0,308.3 L1097.0,311.6 L1098.0,314.9 L1099.0,318.2 L1100.0,321.6 L1101.0,324.9 L1102.0,328.2 L1103.0,331.4 L1104.0,334.7 L1105.0,337.9 L1106.0,341.1 L1107.0,344.4 L1108.0,347.6 L1109.0,350.9 L1110.0,354.2 L1111.0,357.6 L1112.0,361.0 L1113.0,364.4 L1114.0,367.8 L1115.0,371.3 L1116.0,374.9 L1117.0,378.4 L1118.0,382.1 L1119.0,385.7 L1120.0,389.4 L1121.0,393.1 L1122.0,396.9 L1123.0,400.7 L1124.0,404.5 L1125.0,408.4 L1126.0,412.3 L1127.0,416.3 L1128.0,420.2 L1129.0,424.3 L1130.0,428.3 L1131.0,432.4 L1132.0,436.6 L1133.0,440.7 L1134.0,444.9 L1135.0,449.1 L1136.0,453.4 L1137.0,457.7 L1138.0,462.0 L1139.0,466.4 L1140.0,470.7 L1141.0,475.1 L1142.0,479.5 L1143.0,484.0 L1144.0,488.4 L1145.0,492.9 L1146.0,497.4 L1147.0,501.9 L1148.0,506.4 L1149.0,510.9 L1150.0,515.4 L1151.0,519.9 L1152.0,524.4 L1153.0,528.9 L1154.0,533.4 L1155.0,537.9 L1156.0,542.4 L1157.0,546.8 L1158.0,551.3 L1159.0,555.7 L1160.0,560.2 L1161.0,564.6 L1162.0,568.9 L1163.0,573.3 L1164.0,577.6 L1165.0,581.9 L1166.0,586.2 L1167.0,590.4 L1168.0,594.7 L1169.0,598.8 L1170.0,603.0 L1171.0,607.1 L1172.0,611.2 L1173.0,615.3 L1174.0,619.3 L1175.0,623.3 L1176.0,627.2 L1177.0,631.2 L1178.0,635.0 L1179.0,638.9 L1180.0,642.8 L1181.0,646.6 L1182.0,650.3 L1183.0,654.1 L1184.0,657.8 L1185.0,661.5 L1186.0,665.1 L1187.0,668.8 L1188.0,672.4 L1189.0,675.9 L1190.0,679.5 L1191.0,683.0 L1192.0,686.5 L1193.0,690.0 L1194.0,693.4 L1195.0,696.8 L1196.0,700.2 L1197.0,703.6 L1198.0,706.9 L1199.0,710.2 L1200.0,713.5 L1201.0,716.7 L1202.0,720.0 L1203.0,723.2 L1204.0,726.3 L1205.0,729.5 L1206.0,732.6 L1207.0,735.7 L1208.0,738.8 L1209.0,741.8 L1210.0,744.8 L1211.0,747.8 L1212.0,750.7 L1213.0,753.6 L1214.0,756.5 L1215.0,759.3 L1216.0,762.0 L1217.0,764.8 L1218.0,767.5 L1219.0,770.1 L1220.0,772.8 L1221.0,775.3 L1222.0,777.9 L1223.0,780.4 L1224.0,782.8 L1225.0,785.2 L1226.0,787.6 L1227.0,789.9 L1228.0,792.2 L1229.0,794.5 L1230.0,796.7 L1231.0,798.9 L1232.0,801.1 L1233.0,803.2 L1234.0,805.3 L1235.0,807.3 L1236.0,809.4 L1237.0,811.3 L1238.0,813.3 L1239.0,815.2 L1240.0,817.1 L1241.0,818.9 L1242.0,820.8 L1243.0,822.6 L1244.0,824.3 L1245.0,826.1 L1246.0,827.8 L1247.0,829.4 L1248.0,831.1 L1249.0,832.7 L1250.0,834.3 L1251.0,835.9 L1252.0,837.4 L1253.0,838.9 L1254.0,840.4 L1255.0,841.9 L1256.0,843.3 L1257.0,844.8 L1258.0,846.1 L1259.0,847.5 L1260.0,848.9 L1261.0,850.2 L1262.0,851.5 L1263.0,852.8 L1264.0,854.0 L1265.0,855.3 L1266.0,856.5 L1267.0,857.7 L1268.0,858.9 L1269.0,860.0 L1270.0,861.2 L1271.0,862.3 L1272.0,863.4 L1273.0,864.5 L1274.0,865.6 L1275.0,866.6 L1276.0,867.6 L1277.0,868.7 L1278.0,869.6 L1279.0,870.6 L1280.0,871.6 L1281.0,872.5 L1282.0,873.5 L1283.0,874.4 L1284.0,875.3 L1285.0,876.2 L1286.0,877.0 L1287.0,877.9 L1288.0,878.7 L1289.0,879.5 L1290.0,880.3 L1291.0,881.1 L1292.0,881.9 L1293.0,882.7 L1294.0,883.4 L1295.0,884.2 L1296.0,884.9 L1297.0,885.6 L1298.0,886.3 L1299.0,887.0 L1300.0,887.7 L1301.0,888.3 L1302.0,889.0 L1303.0,889.6 L1304.0,890.2 L1305.0,890.8 L1306.0,891.4 L1307.0,892.0 L1308.0,892.6 L1309.0,893.2 L1310.0,893.7 L1311.0,894.3 L1312.0,894.8 L1313.0,895.3 L1314.0,895.8 L1315.0,896.3 L1316.0,896.8 L1317.0,897.3 L1318.0,897.7 L1319.0,898.2 L1320.0,898.7 L1321.0,899.1 L1322.0,899.5 L1323.0,899.9 L1324.0,900.3 L1325.0,900.7 L1326.0,901.1 L1327.0,901.5 L1328.0,901.9 L1329.0,902.2 L1330.0,902.6 L1331.0,902.9 L1332.0,903.2 L1333.0,903.5 L1334.0,903.9 L1335.0,904.2 L1336.0,904.5 L1337.0,904.8 L1338.0,905.1 L1339.0,905.4 L1340.0,905.8 L1341.0,906.1 L1342.0,906.4 L1343.0,906.6 L1344.0,906.9 L1345.0,907.2 L1346.0,907.5 L1347.0,907.8 L1348.0,908.0 L1349.0,908.3 L1350.0,908.5 L1351.0,908.8 L1352.0,909.0 L1353.0,909.3 L1354.0,909.5 L1355.0,909.7 L1356.0,909.9 L1357.0,910.1 L1358.0,910.3 L1359.0,910.5 L1360.0,910.7 L1361.0,910.8 L1362.0,911.0 L1363.0,911.2 L1364.0,911.4 L1365.0,911.5 L1366.0,911.7 L1367.0,911.8 L1368.0,912.0 L1369.0,912.1 L1370.0,912.3 L1371.0,912.4 L1372.0,912.6 L1373.0,912.7 L1374.0,912.8 L1375.0,913.0 L1376.0,913.1 L1377.0,913.2 L1378.0,913.3 L1379.0,913.4 L1380.0,913.5 L1381.0,913.6 L1382.0,913.7 L1383.0,913.8 L1384.0,913.9 L1385.0,914.0 L1386.0,914.1 L1387.0,914.1 L1388.0,914.2 L1389.0,914.3 L1390.0,914.4 L1391.0,914.5 L1392.0,914.5 L1393.0,914.6 L1394.0,914.7 L1395.0,914.8 L1396.0,914.9 L1397.0,914.9 L1398.0,915.0 L1399.0,915.1 L1400.0,915.1 L1401.0,915.2 L1402.0,915.3 L1403.0,915.4 L1404.0,915.4 L1405.0,915.5 L1406.0,915.5 L1407.0,915.6 L1408.0,915.7 L1409.0,915.7 L1410.0,915.8 L1411.0,915.8 L1412.0,915.9 L1413.0,915.9 L1414.0,916.0 L1415.0,916.0 L1416.0,916.1 L1417.0,916.1 L1418.0,916.2 L1419.0,916.2 L1420.0,916.3 L1421.0,916.3 L1422.0,916.3 L1423.0,916.4 L1424.0,916.4 L1425.0,916.4 L1426.0,916.4 L1427.0,916.5 L1428.0,916.5 L1429.0,916.5 L1430.0,916.5 L1431.0,916.5 L1432.0,916.5 L1433.0,916.5 L1434.0,916.5 L1435.0,916.6 L1436.0,916.6 L1437.0,916.6 L1438.0,916.6 L1439.0,916.6 L1440.0,916.6 L1441.0,916.6 L1442.0,916.6 L1443.0,916.6 L1444.0,916.7 L1445.0,916.7 L1446.0,916.7 L1447.0,916.7 L1448.0,916.7 L1449.0,916.7 L1450.0,916.7 L1451.0,916.7 L1452.0,916.7 L1453.0,916.7 L1454.0,916.7 L1455.0,916.7 L1456.0,916.8 L1457.0,916.8 L1458.0,916.8 L1459.0,916.8 L1460.0,916.8 L1461.0,916.8 L1462.0,916.8 L1463.0,916.8 L1464.0,916.8 L1465.0,916.8 L1466.0,916.8 L1467.0,916.8 L1468.0,916.8 L1469.0,916.8 L1470.0,916.8 L1471.0,916.9 L1472.0,916.9 L1473.0,916.9 L1474.0,916.9 L1475.0,916.9 L1476.0,916.9 L1477.0,916.9 L1478.0,916.9 L1479.0,916.9 L1480.0,916.9 L1481.0,916.9 L1482.0,916.9 L1483.0,916.9 L1484.0,916.9 L1485.0,916.9 L1486.0,916.9 L1487.0,916.9 L1488.0,916.9 L1489.0,916.9 L1490.0,916.9 L1491.0,916.9 L1492.0,916.9 L1493.0,916.9 L1494.0,916.9 L1495.0,916.9 L1496.0,916.9 L1497.0,916.9 L1498.0,916.9 L1499.0,916.9 L1500.0,917.0 L1501.0,917.0 L1502.0,917.0 L1503.0,917.0 L1504.0,917.0 L1505.0,917.0 L1506.0,917.0 L1507.0,917.0 L1508.0,917.0 L1509.0,917.0 L1510.0,917.0 L1511.0,917.0 L1512.0,917.0 L1513.0,917.0 L1514.0,917.0 L1515.0,917.0 L1516.0,917.0 L1517.0,917.0 L1518.0,917.0 L1519.0,917.0 L1520.0,917.0 L1521.0,917.0 L1522.0,917.0 L1523.0,917.0 L1524.0,917.0 L1525.0,917.0 L1526.0,917.0 L1527.0,917.0 L1528.0,917.0 L1529.0,917.0 L1530.0,917.0 L1531.0,917.0 L1532.0,917.0 L1533.0,917.0 L1534.0,917.0 L1535.0,917.0 L1536.0,917.0 L1537.0,917.0 L1538.0,917.0 L1539.0,917.0 L1540.0,917.0 L1541.0,917.0 L1542.0,917.0 L1543.0,917.0 L1544.0,917.0 L1545.0,917.0 L1546.0,917.0 L1547.0,917.0 L1548.0,917.0 L1549.0,917.0 L1550.0,917.0 L1551.0,917.0 L1552.0,917.0 L1553.0,917.0 L1554.0,917.0 L1555.0,917.0 L1556.0,917.0 L1557.0,917.0 L1558.0,917.0 L1559.0,917.0 L1560.0,917.0 L1561.0,917.0 L1562.0,917.0 L1563.0,917.0 L1564.0,917.0 L1565.0,917.0 L1566.0,917.0 L1567.0,917.0 L1568.0,917.0 L1569.0,917.0 L1570.0,917.0 L1571.0,917.0 L1572.0,917.0 L1573.0,917.0 L1574.0,917.0 L1575.0,917.0 L1576.0,917.0 L1577.0,917.0 L1578.0,917.0 L1579.0,917.1 L1580.0,917.1 L1581.0,917.1 L1582.0,917.1 L1583.0,917.1 L1584.0,917.1 L1585.0,917.1 L1586.0,917.1 L1587.0,917.1 L1588.0,917.1 L1589.0,917.1 L1590.0,917.1 L1591.0,917.1 L1592.0,917.1 L1593.0,917.1 L1594.0,917.1 L1595.0,917.1 L1596.0,917.1 L1597.0,917.1 L1598.0,917.1 L1599.0,917.1 L1600.0,917.1 L1601.0,917.1 L1602.0,917.1 L1603.0,917.1 L1604.0,917.1 L1605.0,917.1 L1606.0,917.1 L1607.0,917.1 L1608.0,917.1 L1609.0,917.1 L1610.0,917.1 L1611.0,917.1 L1612.0,917.1 L1613.0,917.1 L1614.0,917.1 L1615.0,917.1 L1616.0,917.1 L1617.0,917.1 L1618.0,917.1 L1619.0,917.1 L1620.0,917.1 L1621.0,917.1 L1622.0,917.1 L1623.0,917.1 L1624.0,917.1 L1625.0,917.1 L1626.0,917.1 L1627.0,917.1 L1628.0,917.1 L1629.0,917.1 L1630.0,917.1 L1631.0,917.1 L1632.0,917.1 L1633.0,917.1 L1634.0,917.1 L1635.0,917.1 L1636.0,917.1 L1637.0,917.1 L1638.0,917.1 L1639.0,917.1 L1640.0,917.1 L1641.0,917.1 L1642.0,917.1 L1643.0,917.1 L1644.0,917.1 L1645.0,917.1 L1646.0,917.1 L1647.0,917.1 L1648.0,917.1 L1649.0,917.1 L1650.0,917.1 L1651.0,917.1 L1652.0,917.1 L1653.0,917.1 L1654.0,917.1 L1655.0,917.1 L1656.0,917.1 L1657.0,917.1 L1658.0,917.1 L1659.0,917.1 L1660.0,917.1 L1661.0,917.1 L1662.0,917.1 L1663.0,917.1 L1664.0,917.1 L1665.0,917.1 L1666.0,917.1 L1667.0,917.1 L1668.0,917.1 L1669.0,917.1 L1670.0,917.1 L1671.0,917.1 L1672.0,917.1 L1673.0,917.1 L1674.0,917.1 L1675.0,917.1 L1676.0,917.1 L1677.0,917.1 L1678.0,917.1 L1679.0,917.1 L1680.0,917.1 L1681.0,917.1 L1682.0,917.1 L1683.0,917.1 L1684.0,917.1 L1685.0,917.1 L1686.0,917.1 L1687.0,917.1 L1688.0,917.1 L1689.0,917.1 L1690.0,917.1 L1691.0,917.1 L1692.0,917.1 L1693.0,917.1 L1694.0,917.1 L1695.0,917.1 L1696.0,917.1 L1697.0,917.1 L1698.0,917.1 L1699.0,917.1 L1700.0,917.1 L1701.0,917.1 L1702.0,917.1 L1703.0,917.1 L1704.0,917.1 L1705.0,917.1 L1706.0,917.1 L1707.0,917.1 L1708.0,917.1 L1709.0,917.1 L1710.0,917.1 L1711.0,917.1 L1712.0,917.1 L1713.0,917.1 L1714.0,917.1 L1715.0,917.1 L1716.0,917.1 L1717.0,917.1 L1718.0,917.1 L1719.0,917.1 L1720.0,917.1 L1721.0,917.1 L1722.0,917.1 L1723.0,917.1 L1724.0,917.1 L1725.0,917.1 L1726.0,917.1 L1727.0,917.1 L1728.0,917.1 L1729.0,917.1 L1730.0,917.1 L1731.0,917.1 L1732.0,917.1 L1733.0,917.1 L1734.0,917.1 L1735.0,917.1 L1736.0,917.1 L1737.0,917.1 L1738.0,917.1 L1739.0,917.1 L1740.0,917.1 L1741.0,917.1 L1742.0,917.1 L1743.0,917.1 L1744.0,917.1 L1745.0,917.1 L1746.0,917.1 L1747.0,917.1 L1748.0,917.1 L1749.0,917.1 L1750.0,917.1 L1751.0,917.1 L1752.0,917.1 L1753.0,917.1 L1754.0,917.1 L1755.0,917.1 L1756.0,917.1 L1757.0,917.1 L1758.0,917.1 L1759.0,917.1 L1760.0,917.1 L1761.0,917.1 L1762.0,917.1 L1763.0,917.1 L1764.0,917.1 L1765.0,917.1 L1766.0,917.1 L1767.0,917.1 L1768.0,917.1 L1769.0,917.1 L1770.0,917.1" stroke="#FF0000" stroke-linecap="round" stroke-dasharray="26 26" stroke-dashoffset="20.5"/>
<path d="M291.5,909.5 L292.0,909.5 L293.0,909.5 L294.0,909.5 L295.0,909.4 L296.0,909.4 L297.0,909.4 L298.0,909.4 L299.0,909.3 L300.0,909.3 L301.0,909.3 L302.0,909.2 L303.0,909.2 L304.0,909.2 L305.0,909.1 L306.0,909.1 L307.0,909.0 L308.0,909.0 L309.0,909.0 L310.0,908.9 L311.0,908.9 L312.0,908.8 L313.0,908.8 L314.0,908.8 L315.0,908.7 L316.0,908.7 L317.0,908.6 L318.0,908.6 L319.0,908.5 L320.0,908.5 L321.0,908.4 L322.0,908.4 L323.0,908.3 L324.0,908.2 L325.0,908.2 L326.0,908.1 L327.0,908.1 L328.0,908.0 L329.0,908.0 L330.0,907.9 L331.0,907.8 L332.0,907.8 L333.0,907.7 L334.0,907.6 L335.0,907.6 L336.0,907.5 L337.0,907.4 L338.0,907.4 L339.0,907.3 L340.0,907.2 L341.0,907.1 L342.0,907.1 L343.0,907.0 L344.0,906.9 L345.0,906.8 L346.0,906.7 L347.0,906.7 L348.0,906.6 L349.0,906.5 L350.0,906.4 L351.0,906.3 L352.0,906.2 L353.0,906.1 L354.0,906.0 L355.0,905.9 L356.0,905.8 L357.0,905.7 L358.0,905.6 L359.0,905.5 L360.0,905.4 L361.0,905.3 L362.0,905.2 L363.0,905.1 L364.0,905.0 L365.0,904.9 L366.0,904.8 L367.0,904.7 L368.0,904.6 L369.0,904.4 L370.0,904.3 L371.0,904.2 L372.0,904.1 L373.0,903.9 L374.0,903.8 L375.0,903.7 L376.0,903.6 L377.0,903.4 L378.0,903.3 L379.0,903.2 L380.0,903.0 L381.0,902.9 L382.0,902.7 L383.0,902.6 L384.0,902.4 L385.0,902.3 L386.0,902.1 L387.0,902.0 L388.0,901.8 L389.0,901.7 L390.0,901.5 L391.0,901.4 L392.0,901.2 L393.0,901.1 L394.0,900.9 L395.0,900.7 L396.0,900.6 L397.0,900.4 L398.0,900.2 L399.0,900.1 L400.0,899.9 L401.0,899.7 L402.0,899.5 L403.0,899.4 L404.0,899.2 L405.0,899.0 L406.0,898.8 L407.0,898.7 L408.0,898.5 L409.0,898.3 L410.0,898.1 L411.0,897.9 L412.0,897.7 L413.0,897.5 L414.0,897.4 L415.0,897.2 L416.0,897.0 L417.0,896.8 L418.0,896.6 L419.0,896.4 L420.0,896.2 L421.0,896.0 L422.0,895.8 L423.0,895.6 L424.0,895.4 L425.0,895.2 L426.0,895.0 L427.0,894.8 L428.0,894.6 L429.0,894.4 L430.0,894.2 L431.0,894.0 L432.0,893.8 L433.0,893.6 L434.0,893.3 L435.0,893.1 L436.0,892.9 L437.0,892.7 L438.0,892.5 L439.0,892.3 L440.0,892.1 L441.0,891.9 L442.0,891.6 L443.0,891.4 L444.0,891.2 L445.0,891.0 L446.0,890.8 L447.0,890.6 L448.0,890.3 L449.0,890.1 L450.0,889.9 L451.0,889.7 L452.0,889.5 L453.0,889.2 L454.0,889.0 L455.0,888.8 L456.0,888.6 L457.0,888.3 L458.0,888.1 L459.0,887.9 L460.0,887.7 L461.0,887.4 L462.0,887.2 L463.0,887.0 L464.0,886.8 L465.0,886.5 L466.0,886.3 L467.0,886.1 L468.0,885.8 L469.0,885.6 L470.0,885.4 L471.0,885.1 L472.0,884.9 L473.0,884.7 L474.0,884.4 L475.0,884.2 L476.0,884.0 L477.0,883.7 L478.0,883.5 L479.0,883.3 L480.0,883.0 L481.0,882.8 L482.0,882.5 L483.0,882.3 L484.0,882.1 L485.0,881.8 L486.0,881.6 L487.0,881.3 L488.0,881.1 L489.0,880.8 L490.0,880.6 L491.0,880.3 L492.0,880.1 L493.0,879.8 L494.0,879.6 L495.0,879.3 L496.0,879.1 L497.0,878.8 L498.0,878.6 L499.0,878.3 L500.0,878.1 L501.0,877.8 L502.0,877.6 L503.0,877.3 L504.0,877.1 L505.0,876.8 L506.0,876.5 L507.0,876.3 L508.0,876.0 L509.0,875.8 L510.0,875.5 L511.0,875.2 L512.0,875.0 L513.0,874.7 L514.0,874.4 L515.0,874.2 L516.0,873.9 L517.0,873.6 L518.0,873.4 L519.0,873.1 L520.0,872.8 L521.0,872.6 L522.0,872.3 L523.0,872.0 L524.0,871.8 L525.0,871.5 L526.0,871.2 L527.0,870.9 L528.0,870.7 L529.0,870.4 L530.0,870.1 L531.0,869.8 L532.0,869.6 L533.0,869.3 L534.0,869.0 L535.0,868.7 L536.0,868.4 L537.0,868.1 L538.0,867.9 L539.0,867.6 L540.0,867.3 L541.0,867.0 L542.0,866.7 L543.0,866.4 L544.0,866.1 L545.0,865.8 L546.0,865.5 L547.0,865.2 L548.0,864.9 L549.0,864.5 L550.0,864.2 L551.0,863.9 L552.0,863.6 L553.0,863.3 L554.0,863.0 L555.0,862.6 L556.0,862.3 L557.0,862.0 L558.0,861.6 L559.0,861.3 L560.0,860.9 L561.0,860.6 L562.0,860.3 L563.0,859.9 L564.0,859.5 L565.0,859.2 L566.0,858.8 L567.0,858.5 L568.0,858.1 L569.0,857.7 L570.0,857.3 L571.0,856.9 L572.0,856.6 L573.0,856.2 L574.0,855.8 L575.0,855.4 L576.0,855.0 L577.0,854.6 L578.0,854.2 L579.0,853.8 L580.0,853.3 L581.0,852.9 L582.0,852.5 L583.0,852.1 L584.0,851.6 L585.0,851.2 L586.0,850.7 L587.0,850.3 L588.0,849.8 L589.0,849.4 L590.0,848.9 L591.0,848.4 L592.0,848.0 L593.0,847.5 L594.0,847.0 L595.0,846.5 L596.0,846.0 L597.0,845.5 L598.0,845.0 L599.0,844.5 L600.0,844.0 L601.0,843.4 L602.0,842.9 L603.0,842.4 L604.0,841.8 L605.0,841.3 L606.0,840.7 L607.0,840.2 L608.0,839.6 L609.0,839.0 L610.0,838.5 L611.0,837.9 L612.0,837.3 L613.0,836.7 L614.0,836.1 L615.0,835.5 L616.0,834.9 L617.0,834.2 L618.0,833.6 L619.0,833.0 L620.0,832.3 L621.0,831.7 L622.0,831.0 L623.0,830.3 L624.0,829.7 L625.0,829.0 L626.0,828.3 L627.0,827.6 L628.0,826.9 L629.0,826.2 L630.0,825.5 L631.0,824.7 L632.0,824.0 L633.0,823.3 L634.0,822.5 L635.0,821.8 L636.0,821.0 L637.0,820.2 L638.0,819.4 L639.0,818.7 L640.0,817.9 L641.0,817.0 L642.0,816.2 L643.0,815.4 L644.0,814.6 L645.0,813.7 L646.0,812.9 L647.0,812.0 L648.0,811.1 L649.0,810.3 L650.0,809.4 L651.0,808.5 L652.0,807.5 L653.0,806.6 L654.0,805.7 L655.0,804.8 L656.0,803.8 L657.0,802.8 L658.0,801.9 L659.0,800.9 L660.0,799.9 L661.0,798.9 L662.0,797.9 L663.0,796.8 L664.0,795.8 L665.0,794.7 L666.0,793.7 L667.0,792.6 L668.0,791.5 L669.0,790.4 L670.0,789.4 L671.0,788.3 L672.0,787.2 L673.0,786.1 L674.0,785.0 L675.0,783.9 L676.0,782.8 L677.0,781.7 L678.0,780.7 L679.0,779.6 L680.0,778.5 L681.0,777.5 L682.0,776.4 L683.0,775.4 L684.0,774.4 L685.0,773.3 L686.0,772.3 L687.0,771.2 L688.0,770.2 L689.0,769.2 L690.0,768.1 L691.0,767.1 L692.0,766.1 L693.0,765.0 L694.0,764.0 L695.0,763.0 L696.0,761.9 L697.0,760.9 L698.0,759.8 L699.0,758.8 L700.0,757.7 L701.0,756.7 L702.0,755.6 L703.0,754.6 L704.0,753.5 L705.0,752.4 L706.0,751.3 L707.0,750.2 L708.0,749.1 L709.0,748.0 L710.0,746.9 L711.0,745.8 L712.0,744.7 L713.0,743.6 L714.0,742.5 L715.0,741.4 L716.0,740.3 L717.0,739.2 L718.0,738.1 L719.0,737.0 L720.0,735.9 L721.0,734.9 L722.0,733.8 L723.0,732.7 L724.0,731.7 L725.0,730.6 L726.0,729.6 L727.0,728.6 L728.0,727.5 L729.0,726.5 L730.0,725.5 L731.0,724.5 L732.0,723.5 L733.0,722.5 L734.0,721.6 L735.0,720.6 L736.0,719.7 L737.0,718.7 L738.0,717.8 L739.0,716.9 L740.0,715.9 L741.0,715.1 L742.0,714.2 L743.0,713.3 L744.0,712.4 L745.0,711.6 L746.0,710.8 L747.0,709.9 L748.0,709.1 L749.0,708.3 L750.0,707.6 L751.0,706.8 L752.0,706.0 L753.0,705.3 L754.0,704.5 L755.0,703.8 L756.0,703.1 L757.0,702.4 L758.0,701.7 L759.0,701.0 L760.0,700.3 L761.0,699.6 L762.0,699.0 L763.0,698.3 L764.0,697.7 L765.0,697.0 L766.0,696.4 L767.0,695.8 L768.0,695.2 L769.0,694.6 L770.0,694.0 L771.0,693.4 L772.0,692.8 L773.0,692.2 L774.0,691.6 L775.0,691.1 L776.0,690.5 L777.0,690.0 L778.0,689.4 L779.0,688.9 L780.0,688.3 L781.0,687.8 L782.0,687.3 L783.0,686.8 L784.0,686.3 L785.0,685.8 L786.0,685.3 L787.0,684.8 L788.0,684.3 L789.0,683.8 L790.0,683.3 L791.0,682.9 L792.0,682.4 L793.0,681.9 L794.0,681.5 L795.0,681.0 L796.0,680.5 L797.0,680.1 L798.0,679.7 L799.0,679.2 L800.0,678.8 L801.0,678.3 L802.0,677.9 L803.0,677.5 L804.0,677.1 L805.0,676.6 L806.0,676.2 L807.0,675.8 L808.0,675.4 L809.0,675.0 L810.0,674.6 L811.0,674.1 L812.0,673.7 L813.0,673.3 L814.0,672.9 L815.0,672.5 L816.0,672.1 L817.0,671.7 L818.0,671.2 L819.0,670.8 L820.0,670.4 L821.0,670.0 L822.0,669.6 L823.0,669.1 L824.0,668.7 L825.0,668.3 L826.0,667.8 L827.0,667.4 L828.0,666.9 L829.0,666.5 L830.0,666.0 L831.0,665.6 L832.0,665.1 L833.0,664.6 L834.0,664.2 L835.0,663.7 L836.0,663.2 L837.0,662.7 L838.0,662.2 L839.0,661.7 L840.0,661.1 L841.0,660.6 L842.0,660.1 L843.0,659.5 L844.0,659.0 L845.0,658.4 L846.0,657.8 L847.0,657.2 L848.0,656.6 L849.0,656.0 L850.0,655.4 L851.0,654.7 L852.0,654.1 L853.0,653.4 L854.0,652.8 L855.0,652.1 L856.0,651.4 L857.0,650.7 L858.0,650.0 L859.0,649.2 L860.0,648.5 L861.0,647.7 L862.0,646.9 L863.0,646.1 L864.0,645.3 L865.0,644.5 L866.0,643.6 L867.0,642.8 L868.0,641.9 L869.0,641.0 L870.0,640.0 L871.0,639.1 L872.0,638.1 L873.0,637.1 L874.0,636.1 L875.0,635.1 L876.0,634.0 L877.0,632.9 L878.0,631.8 L879.0,630.7 L880.0,629.5 L881.0,628.3 L882.0,627.1 L883.0,625.9 L884.0,624.6 L885.0,623.3 L886.0,622.0 L887.0,620.7 L888.0,619.3 L889.0,617.9 L890.0,616.5 L891.0,615.0 L892.0,613.6 L893.0,612.1 L894.0,610.5 L895.0,609.0 L896.0,607.4 L897.0,605.8 L898.0,604.1 L899.0,602.5 L900.0,600.8 L901.0,599.1 L902.0,597.4 L903.0,595.7 L904.0,593.9 L905.0,592.1 L906.0,590.3 L907.0,588.5 L908.0,586.6 L909.0,584.8 L910.0,582.9 L911.0,581.0 L912.0,579.0 L913.0,577.1 L914.0,575.1 L915.0,573.1 L916.0,571.1 L917.0,569.0 L918.0,567.0 L919.0,564.9 L920.0,562.8 L921.0,560.6 L922.0,558.5 L923.0,556.3 L924.0,554.1 L925.0,551.9 L926.0,549.6 L927.0,547.4 L928.0,545.1 L929.0,542.8 L930.0,540.5 L931.0,538.1 L932.0,535.8 L933.0,533.4 L934.0,530.9 L935.0,528.5 L936.0,526.0 L937.0,523.6 L938.0,521.1 L939.0,518.5 L940.0,516.0 L941.0,513.4 L942.0,510.8 L943.0,508.2 L944.0,505.5 L945.0,502.9 L946.0,500.2 L947.0,497.5 L948.0,494.8 L949.0,492.0 L950.0,489.3 L951.0,486.5 L952.0,483.7 L953.0,480.8 L954.0,478.0 L955.0,475.1 L956.0,472.3 L957.0,469.4 L958.0,466.5 L959.0,463.5 L960.0,460.6 L961.0,457.7 L962.0,454.7 L963.0,451.7 L964.0,448.8 L965.0,445.8 L966.0,442.8 L967.0,439.8 L968.0,436.8 L969.0,433.8 L970.0,430.7 L971.0,427.7 L972.0,424.7 L973.0,421.7 L974.0,418.7 L975.0,415.7 L976.0,412.7 L977.0,409.7 L978.0,406.7 L979.0,403.7 L980.0,400.7 L981.0,397.7 L982.0,394.8 L983.0,391.8 L984.0,388.9 L985.0,386.0 L986.0,383.1 L987.0,380.2 L988.0,377.3 L989.0,374.4 L990.0,371.6 L991.0,368.8 L992.0,366.0 L993.0,363.2 L994.0,360.4 L995.0,357.7 L996.0,354.9 L997.0,352.2 L998.0,349.5 L999.0,346.9 L1000.0,344.2 L1001.0,341.6 L1002.0,339.0 L1003.0,336.4 L1004.0,333.9 L1005.0,331.3 L1006.0,328.8 L1007.0,326.3 L1008.0,323.9 L1009.0,321.4 L1010.0,319.0 L1011.0,316.6 L1012.0,314.1 L1013.0,311.7 L1014.0,309.3 L1015.0,307.0 L1016.0,304.6 L1017.0,302.2 L1018.0,299.9 L1019.0,297.5 L1020.0,295.2 L1021.0,292.9 L1022.0,290.6 L1023.0,288.4 L1024.0,286.3 L1025.0,284.2 L1026.0,282.2 L1027.0,280.3 L1028.0,278.5 L1029.0,276.8 L1030.0,275.1 L1031.0,273.6 L1032.0,272.1 L1033.0,270.7 L1034.0,269.4 L1035.0,268.1 L1036.0,266.9 L1037.0,265.8 L1038.0,264.7 L1039.0,263.6 L1040.0,262.6 L1041.0,261.6 L1042.0,260.7 L1043.0,259.8 L1044.0,258.9 L1045.0,258.1 L1046.0,257.3 L1047.0,256.6 L1048.0,256.0 L1049.0,255.4 L1050.0,254.8 L1051.0,254.3 L1052.0,253.9 L1053.0,253.6 L1054.0,253.3 L1055.0,253.1 L1056.0,253.0 L1057.0,253.0 L1058.0,253.1 L1059.0,253.2 L1060.0,253.4 L1061.0,253.8 L1062.0,254.1 L1063.0,254.6 L1064.0,255.1 L1065.0,255.7 L1066.0,256.4 L1067.0,257.1 L1068.0,257.8 L1069.0,258.6 L1070.0,259.5 L1071.0,260.4 L1072.0,261.4 L1073.0,262.4 L1074.0,263.5 L1075.0,264.6 L1076.0,265.8 L1077.0,267.1 L1078.0,268.4 L1079.0,269.8 L1080.0,271.3 L1081.0,272.8 L1082.0,274.4 L1083.0,276.2 L1084.0,278.0 L1085.0,279.9 L1086.0,281.9 L1087.0,284.0 L1088.0,286.2 L1089.0,288.6 L1090.0,291.0 L1091.0,293.6 L1092.0,296.3 L1093.0,299.1 L1094.0,302.1 L1095.0,305.2 L1096.0,308.3 L1097.0,311.6 L1098.0,314.9 L1099.0,318.2 L1100.0,321.6 L1101.0,324.9 L1102.0,328.2 L1103.0,331.4 L1104.0,334.7 L1105.0,337.9 L1106.0,341.1 L1107.0,344.4 L1108.0,347.6 L1109.0,350.9 L1110.0,354.2 L1111.0,357.6 L1112.0,361.0 L1113.0,364.4 L1114.0,367.8 L1115.0,371.3 L1116.0,374.9 L1117.0,378.4 L1118.0,382.1 L1119.0,385.7 L1120.0,389.4 L1121.0,393.1 L1122.0,396.9 L1123.0,400.7 L1124.0,404.5 L1125.0,408.4 L1126.0,412.3 L1127.0,416.3 L1128.0,420.2 L1129.0,424.3 L1130.0,428.3 L1131.0,432.4 L1132.0,436.6 L1133.0,440.7 L1134.0,444.9 L1135.0,449.1 L1136.0,453.4 L1137.0,457.7 L1138.0,462.0 L1139.0,466.4 L1140.0,470.7 L1141.0,475.1 L1142.0,479.5 L1143.0,484.0 L1144.0,488.4 L1145.0,492.9 L1146.0,497.4 L1147.0,501.9 L1148.0,506.4 L1149.0,510.9 L1150.0,515.4 L1151.0,519.9 L1152.0,524.4 L1153.0,528.9 L1154.0,533.4 L1155.0,537.9 L1156.0,542.4 L1157.0,546.8 L1158.0,551.3 L1159.0,555.7 L1160.0,560.2 L1161.0,564.6 L1162.0,568.9 L1163.0,573.3 L1164.0,577.6 L1165.0,581.9 L1166.0,586.2 L1167.0,590.4 L1168.0,594.7 L1169.0,598.8 L1170.0,603.0 L1171.0,607.1 L1172.0,611.2 L1173.0,615.3 L1174.0,619.3 L1175.0,623.3 L1176.0,627.2 L1177.0,631.2 L1178.0,635.0 L1179.0,638.9 L1180.0,642.8 L1181.0,646.6 L1182.0,650.3 L1183.0,654.1 L1184.0,657.8 L1185.0,661.5 L1186.0,665.1 L1187.0,668.8 L1188.0,672.4 L1189.0,675.9 L1190.0,679.5 L1191.0,683.0 L1192.0,686.5 L1193.0,690.0 L1194.0,693.4 L1195.0,696.8 L1196.0,700.2 L1197.0,703.6 L1198.0,706.9 L1199.0,710.2 L1200.0,713.5 L1201.0,716.7 L1202.0,720.0 L1203.0,723.2 L1204.0,726.3 L1205.0,729.5 L1206.0,732.6 L1207.0,735.7 L1208.0,738.8 L1209.0,741.8 L1210.0,744.8 L1211.0,747.8 L1212.0,750.7 L1213.0,753.6 L1214.0,756.5 L1215.0,759.3 L1216.0,762.0 L1217.0,764.8 L1218.0,767.5 L1219.0,770.1 L1220.0,772.8 L1221.0,775.3 L1222.0,777.9 L1223.0,780.4 L1224.0,782.8 L1225.0,785.2 L1226.0,787.6 L1227.0,789.9 L1228.0,792.2 L1229.0,794.5 L1230.0,796.7 L1231.0,798.9 L1232.0,801.1 L1233.0,803.2 L1234.0,805.3 L1235.0,807.3 L1236.0,809.4 L1237.0,811.3 L1238.0,813.3 L1239.0,815.2 L1240.0,817.1 L1241.0,818.9 L1242.0,820.8 L1243.0,822.6 L1244.0,824.3 L1245.0,826.1 L1246.0,827.8 L1247.0,829.4 L1248.0,831.1 L1249.0,832.7 L1250.0,834.3 L1251.0,835.9 L1252.0,837.4 L1253.0,838.9 L1254.0,840.4 L1255.0,841.9 L1256.0,843.3 L1257.0,844.8 L1258.0,846.1 L1259.0,847.5 L1260.0,848.9 L1261.0,850.2 L1262.0,851.5 L1263.0,852.8 L1264.0,854.0 L1265.0,855.3 L1266.0,856.5 L1267.0,857.7 L1268.0,858.9 L1269.0,860.0 L1270.0,861.2 L1271.0,862.3 L1272.0,863.4 L1273.0,864.5 L1274.0,865.6 L1275.0,866.6 L1276.0,867.6 L1277.0,868.7 L1278.0,869.6 L1279.0,870.6 L1280.0,871.6 L1281.0,872.5 L1282.0,873.5 L1283.0,874.4 L1284.0,875.3 L1285.0,876.2 L1286.0,877.0 L1287.0,877.9 L1288.0,878.7 L1289.0,879.5 L1290.0,880.3 L1291.0,881.1 L1292.0,881.9 L1293.0,882.7 L1294.0,883.4 L1295.0,884.2 L1296.0,884.9 L1297.0,885.6 L1298.0,886.3 L1299.0,887.0 L1300.0,887.7 L1301.0,888.3 L1302.0,889.0 L1303.0,889.6 L1304.0,890.2 L1305.0,890.8 L1306.0,891.4 L1307.0,892.0 L1308.0,892.6 L1309.0,893.2 L1310.0,893.7 L1311.0,894.3 L1312.0,894.8 L1313.0,895.3 L1314.0,895.8 L1315.0,896.3 L1316.0,896.8 L1317.0,897.3 L1318.0,897.7 L1319.0,898.2 L1320.0,898.7 L1321.0,899.1 L1322.0,899.5 L1323.0,899.9 L1324.0,900.3 L1325.0,900.7 L1326.0,901.1 L1327.0,901.5 L1328.0,901.9 L1329.0,902.2 L1330.0,902.6 L1331.0,902.9 L1332.0,903.2 L1333.0,903.5 L1334.0,903.9 L1335.0,904.2 L1336.0,904.5 L1337.0,904.8 L1338.0,905.1 L1339.0,905.4 L1340.0,905.8 L1341.0,906.1 L1342.0,906.4 L1343.0,906.6 L1344.0,906.9 L1345.0,907.2 L1346.0,907.5 L1347.0,907.8 L1348.0,908.0 L1349.0,908.3 L1350.0,908.5 L1351.0,908.8 L1352.0,909.0 L1353.0,909.3 L1354.0,909.5 L1355.0,909.7 L1356.0,909.9 L1357.0,910.1 L1358.0,910.3 L1359.0,910.5 L1360.0,910.7 L1361.0,910.8 L1362.0,911.0 L1363.0,911.2 L1364.0,911.4 L1365.0,911.5 L1366.0,911.7 L1367.0,911.8 L1368.0,912.0 L1369.0,912.1 L1370.0,912.3 L1371.0,912.4 L1372.0,912.6 L1373.0,912.7 L1374.0,912.8 L1375.0,913.0 L1376.0,913.1 L1377.0,913.2 L1378.0,913.3 L1379.0,913.4 L1380.0,913.5 L1381.0,913.6 L1382.0,913.7 L1383.0,913.8 L1384.0,913.9 L1385.0,914.0 L1386.0,914.1 L1387.0,914.1 L1388.0,914.2 L1389.0,914.3 L1390.0,914.4 L1391.0,914.5 L1392.0,914.5 L1393.0,914.6 L1394.0,914.7 L1395.0,914.8 L1396.0,914.9 L1397.0,914.9 L1398.0,915.0 L1399.0,915.1 L1400.0,915.1 L1401.0,915.2 L1402.0,915.3 L1403.0,915.4 L1404.0,915.4 L1405.0,915.5 L1406.0,915.5 L1407.0,915.6 L1408.0,915.7 L1409.0,915.7 L1410.0,915.8 L1411.0,915.8 L1412.0,915.9 L1413.0,915.9 L1414.0,916.0 L1415.0,916.0 L1416.0,916.1 L1417.0,916.1 L1418.0,916.2 L1419.0,916.2 L1420.0,916.3 L1421.0,916.3 L1422.0,916.3 L1423.0,916.4 L1424.0,916.4 L1425.0,916.4 L1426.0,916.4 L1427.0,916.5 L1428.0,916.5 L1429.0,916.5 L1430.0,916.5 L1431.0,916.5 L1432.0,916.5 L1433.0,916.5 L1434.0,916.5 L1435.0,916.6 L1436.0,916.6 L1437.0,916.6 L1438.0,916.6 L1439.0,916.6 L1440.0,916.6 L1441.0,916.6 L1442.0,916.6 L1443.0,916.6 L1444.0,916.7 L1445.0,916.7 L1446.0,916.7 L1447.0,916.7 L1448.0,916.7 L1449.0,916.7 L1450.0,916.7 L1451.0,916.7 L1452.0,916.7 L1453.0,916.7 L1454.0,916.7 L1455.0,916.7 L1456.0,916.8 L1457.0,916.8 L1458.0,916.8 L1459.0,916.8 L1460.0,916.8 L1461.0,916.8 L1462.0,916.8 L1463.0,916.8 L1464.0,916.8 L1465.0,916.8 L1466.0,916.8 L1467.0,916.8 L1468.0,916.8 L1469.0,916.8 L1470.0,916.8 L1471.0,916.9 L1472.0,916.9 L1473.0,916.9 L1474.0,916.9 L1475.0,916.9 L1476.0,916.9 L1477.0,916.9 L1478.0,916.9 L1479.0,916.9 L1480.0,916.9 L1481.0,916.9 L1482.0,916.9 L1483.0,916.9 L1484.0,916.9 L1485.0,916.9 L1486.0,916.9 L1487.0,916.9 L1488.0,916.9 L1489.0,916.9 L1490.0,916.9 L1491.0,916.9 L1492.0,916.9 L1493.0,916.9 L1494.0,916.9 L1495.0,916.9 L1496.0,916.9 L1497.0,916.9 L1498.0,916.9 L1499.0,916.9 L1500.0,917.0 L1501.0,917.0 L1502.0,917.0 L1503.0,917.0 L1504.0,917.0 L1505.0,917.0 L1506.0,917.0 L1507.0,917.0 L1508.0,917.0 L1509.0,917.0 L1510.0,917.0 L1511.0,917.0 L1512.0,917.0 L1513.0,917.0 L1514.0,917.0 L1515.0,917.0 L1516.0,917.0 L1517.0,917.0 L1518.0,917.0 L1519.0,917.0 L1520.0,917.0 L1521.0,917.0 L1522.0,917.0 L1523.0,917.0 L1524.0,917.0 L1525.0,917.0 L1526.0,917.0 L1527.0,917.0 L1528.0,917.0 L1529.0,917.0 L1530.0,917.0 L1531.0,917.0 L1532.0,917.0 L1533.0,917.0 L1534.0,917.0 L1535.0,917.0 L1536.0,917.0 L1537.0,917.0 L1538.0,917.0 L1539.0,917.0 L1540.0,917.0 L1541.0,917.0 L1542.0,917.0 L1543.0,917.0 L1544.0,917.0 L1545.0,917.0 L1546.0,917.0 L1547.0,917.0 L1548.0,917.0 L1549.0,917.0 L1550.0,917.0 L1551.0,917.0 L1552.0,917.0 L1553.0,917.0 L1554.0,917.0 L1555.0,917.0 L1556.0,917.0 L1557.0,917.0 L1558.0,917.0 L1559.0,917.0 L1560.0,917.0 L1561.0,917.0 L1562.0,917.0 L1563.0,917.0 L1564.0,917.0 L1565.0,917.0 L1566.0,917.0 L1567.0,917.0 L1568.0,917.0 L1569.0,917.0 L1570.0,917.0 L1571.0,917.0 L1572.0,917.0 L1573.0,917.0 L1574.0,917.0 L1575.0,917.0 L1576.0,917.0 L1577.0,917.0 L1578.0,917.0 L1579.0,917.1 L1580.0,917.1 L1581.0,917.1 L1582.0,917.1 L1583.0,917.1 L1584.0,917.1 L1585.0,917.1 L1586.0,917.1 L1587.0,917.1 L1588.0,917.1 L1589.0,917.1 L1590.0,917.1 L1591.0,917.1 L1592.0,917.1 L1593.0,917.1 L1594.0,917.1 L1595.0,917.1 L1596.0,917.1 L1597.0,917.1 L1598.0,917.1 L1599.0,917.1 L1600.0,917.1 L1601.0,917.1 L1602.0,917.1 L1603.0,917.1 L1604.0,917.1 L1605.0,917.1 L1606.0,917.1 L1607.0,917.1 L1608.0,917.1 L1609.0,917.1 L1610.0,917.1 L1611.0,917.1 L1612.0,917.1 L1613.0,917.1 L1614.0,917.1 L1615.0,917.1 L1616.0,917.1 L1617.0,917.1 L1618.0,917.1 L1619.0,917.1 L1620.0,917.1 L1621.0,917.1 L1622.0,917.1 L1623.0,917.1 L1624.0,917.1 L1625.0,917.1 L1626.0,917.1 L1627.0,917.1 L1628.0,917.1 L1629.0,917.1 L1630.0,917.1 L1631.0,917.1 L1632.0,917.1 L1633.0,917.1 L1634.0,917.1 L1635.0,917.1 L1636.0,917.1 L1637.0,917.1 L1638.0,917.1 L1639.0,917.1 L1640.0,917.1 L1641.0,917.1 L1642.0,917.1 L1643.0,917.1 L1644.0,917.1 L1645.0,917.1 L1646.0,917.1 L1647.0,917.1 L1648.0,917.1 L1649.0,917.1 L1650.0,917.1 L1651.0,917.1 L1652.0,917.1 L1653.0,917.1 L1654.0,917.1 L1655.0,917.1 L1656.0,917.1 L1657.0,917.1 L1658.0,917.1 L1659.0,917.1 L1660.0,917.1 L1661.0,917.1 L1662.0,917.1 L1663.0,917.1 L1664.0,917.1 L1665.0,917.1 L1666.0,917.1 L1667.0,917.1 L1668.0,917.1 L1669.0,917.1 L1670.0,917.1 L1671.0,917.1 L1672.0,917.1 L1673.0,917.1 L1674.0,917.1 L1675.0,917.1 L1676.0,917.1 L1677.0,917.1 L1678.0,917.1 L1679.0,917.1 L1680.0,917.1 L1681.0,917.1 L1682.0,917.1 L1683.0,917.1 L1684.0,917.1 L1685.0,917.1 L1686.0,917.1 L1687.0,917.1 L1688.0,917.1 L1689.0,917.1 L1690.0,917.1 L1691.0,917.1 L1692.0,917.1 L1693.0,917.1 L1694.0,917.1 L1695.0,917.1 L1696.0,917.1 L1697.0,917.1 L1698.0,917.1 L1699.0,917.1 L1700.0,917.1 L1701.0,917.1 L1702.0,917.1 L1703.0,917.1 L1704.0,917.1 L1705.0,917.1 L1706.0,917.1 L1707.0,917.1 L1708.0,917.1 L1709.0,917.1 L1710.0,917.1 L1711.0,917.1 L1712.0,917.1 L1713.0,917.1 L1714.0,917.1 L1715.0,917.1 L1716.0,917.1 L1717.0,917.1 L1718.0,917.1 L1719.0,917.1 L1720.0,917.1 L1721.0,917.1 L1722.0,917.1 L1723.0,917.1 L1724.0,917.1 L1725.0,917.1 L1726.0,917.1 L1727.0,917.1 L1728.0,917.1 L1729.0,917.1 L1730.0,917.1 L1731.0,917.1 L1732.0,917.1 L1733.0,917.1 L1734.0,917.1 L1735.0,917.1 L1736.0,917.1 L1737.0,917.1 L1738.0,917.1 L1739.0,917.1 L1740.0,917.1 L1741.0,917.1 L1742.0,917.1 L1743.0,917.1 L1744.0,917.1 L1745.0,917.1 L1746.0,917.1 L1747.0,917.1 L1748.0,917.1 L1749.0,917.1 L1750.0,917.1 L1751.0,917.1 L1752.0,917.1 L1753.0,917.1 L1754.0,917.1 L1755.0,917.1 L1756.0,917.1 L1757.0,917.1 L1758.0,917.1 L1759.0,917.1 L1760.0,917.1 L1761.0,917.1 L1762.0,917.1 L1763.0,917.1 L1764.0,917.1 L1765.0,917.1 L1766.0,917.1 L1767.0,917.1 L1768.0,917.1 L1769.0,917.1 L1770.0,917.1" stroke="#E3A600" stroke-linecap="round" stroke-dasharray="0 26" stroke-dashoffset="20.5"/>
<path d="M291.5,910.8 L292.0,910.8 L293.0,910.7 L294.0,910.7 L295.0,910.6 L296.0,910.6 L297.0,910.5 L298.0,910.5 L299.0,910.4 L300.0,910.4 L301.0,910.4 L302.0,910.3 L303.0,910.3 L304.0,910.2 L305.0,910.2 L306.0,910.1 L307.0,910.1 L308.0,910.0 L309.0,910.0 L310.0,909.9 L311.0,909.9 L312.0,909.8 L313.0,909.8 L314.0,909.7 L315.0,909.7 L316.0,909.7 L317.0,909.6 L318.0,909.6 L319.0,909.5 L320.0,909.5 L321.0,909.4 L322.0,909.4 L323.0,909.3 L324.0,909.3 L325.0,909.2 L326.0,909.2 L327.0,909.1 L328.0,909.1 L329.0,909.0 L330.0,909.0 L331.0,908.9 L332.0,908.8 L333.0,908.8 L334.0,908.7 L335.0,908.7 L336.0,908.6 L337.0,908.6 L338.0,908.5 L339.0,908.4 L340.0,908.4 L341.0,908.3 L342.0,908.2 L343.0,908.2 L344.0,908.1 L345.0,908.0 L346.0,908.0 L347.0,907.9 L348.0,907.8 L349.0,907.8 L350.0,907.7 L351.0,907.6 L352.0,907.5 L353.0,907.5 L354.0,907.4 L355.0,907.3 L356.0,907.2 L357.0,907.1 L358.0,907.0 L359.0,906.9 L360.0,906.9 L361.0,906.8 L362.0,906.7 L363.0,906.6 L364.0,906.5 L365.0,906.4 L366.0,906.3 L367.0,906.2 L368.0,906.1 L369.0,906.0 L370.0,905.9 L371.0,905.7 L372.0,905.6 L373.0,905.5 L374.0,905.4 L375.0,905.3 L376.0,905.2 L377.0,905.0 L378.0,904.9 L379.0,904.8 L380.0,904.6 L381.0,904.5 L382.0,904.4 L383.0,904.2 L384.0,904.1 L385.0,903.9 L386.0,903.8 L387.0,903.7 L388.0,903.5 L389.0,903.4 L390.0,903.2 L391.0,903.1 L392.0,902.9 L393.0,902.7 L394.0,902.6 L395.0,902.4 L396.0,902.3 L397.0,902.1 L398.0,901.9 L399.0,901.8 L400.0,901.6 L401.0,901.4 L402.0,901.2 L403.0,901.1 L404.0,900.9 L405.0,900.7 L406.0,900.5 L407.0,900.4 L408.0,900.2 L409.0,900.0 L410.0,899.8 L411.0,899.6 L412.0,899.4 L413.0,899.3 L414.0,899.1 L415.0,898.9 L416.0,898.7 L417.0,898.5 L418.0,898.3 L419.0,898.1 L420.0,897.9 L421.0,897.7 L422.0,897.5 L423.0,897.3 L424.0,897.1 L425.0,896.9 L426.0,896.7 L427.0,896.5 L428.0,896.3 L429.0,896.1 L430.0,895.9 L431.0,895.7 L432.0,895.5 L433.0,895.3 L434.0,895.1 L435.0,894.9 L436.0,894.7 L437.0,894.5 L438.0,894.3 L439.0,894.1 L440.0,893.9 L441.0,893.7 L442.0,893.5 L443.0,893.3 L444.0,893.1 L445.0,892.9 L446.0,892.6 L447.0,892.4 L448.0,892.2 L449.0,892.0 L450.0,891.8 L451.0,891.6 L452.0,891.4 L453.0,891.2 L454.0,891.0 L455.0,890.8 L456.0,890.6 L457.0,890.4 L458.0,890.2 L459.0,889.9 L460.0,889.7 L461.0,889.5 L462.0,889.3 L463.0,889.1 L464.0,888.9 L465.0,888.7 L466.0,888.5 L467.0,888.3 L468.0,888.1 L469.0,887.9 L470.0,887.7 L471.0,887.4 L472.0,887.2 L473.0,887.0 L474.0,886.8 L475.0,886.6 L476.0,886.4 L477.0,886.2 L478.0,886.0 L479.0,885.7 L480.0,885.5 L481.0,885.3 L482.0,885.1 L483.0,884.9 L484.0,884.7 L485.0,884.5 L486.0,884.2 L487.0,884.0 L488.0,883.8 L489.0,883.6 L490.0,883.4 L491.0,883.1 L492.0,882.9 L493.0,882.7 L494.0,882.5 L495.0,882.2 L496.0,882.0 L497.0,881.8 L498.0,881.5 L499.0,881.3 L500.0,881.1 L501.0,880.9 L502.0,880.6 L503.0,880.4 L504.0,880.1 L505.0,879.9 L506.0,879.7 L507.0,879.4 L508.0,879.2 L509.0,878.9 L510.0,878.7 L511.0,878.5 L512.0,878.2 L513.0,878.0 L514.0,877.7 L515.0,877.5 L516.0,877.2 L517.0,876.9 L518.0,876.7 L519.0,876.4 L520.0,876.2 L521.0,875.9 L522.0,875.7 L523.0,875.4 L524.0,875.1 L525.0,874.9 L526.0,874.6 L527.0,874.3 L528.0,874.0 L529.0,873.8 L530.0,873.5 L531.0,873.2 L532.0,872.9 L533.0,872.7 L534.0,872.4 L535.0,872.1 L536.0,871.8 L537.0,871.5 L538.0,871.2 L539.0,870.9 L540.0,870.6 L541.0,870.3 L542.0,870.0 L543.0,869.7 L544.0,869.4 L545.0,869.1 L546.0,868.8 L547.0,868.5 L548.0,868.2 L549.0,867.9 L550.0,867.5 L551.0,867.2 L552.0,866.9 L553.0,866.6 L554.0,866.2 L555.0,865.9 L556.0,865.6 L557.0,865.2 L558.0,864.9 L559.0,864.5 L560.0,864.2 L561.0,863.9 L562.0,863.5 L563.0,863.2 L564.0,862.8 L565.0,862.4 L566.0,862.1 L567.0,861.7 L568.0,861.3 L569.0,861.0 L570.0,860.6 L571.0,860.2 L572.0,859.8 L573.0,859.5 L574.0,859.1 L575.0,858.7 L576.0,858.3 L577.0,857.9 L578.0,857.5 L579.0,857.1 L580.0,856.7 L581.0,856.3 L582.0,855.8 L583.0,855.4 L584.0,855.0 L585.0,854.6 L586.0,854.1 L587.0,853.7 L588.0,853.3 L589.0,852.8 L590.0,852.4 L591.0,851.9 L592.0,851.5 L593.0,851.0 L594.0,850.6 L595.0,850.1 L596.0,849.6 L597.0,849.2 L598.0,848.7 L599.0,848.2 L600.0,847.7 L601.0,847.2 L602.0,846.7 L603.0,846.2 L604.0,845.7 L605.0,845.2 L606.0,844.7 L607.0,844.2 L608.0,843.7 L609.0,843.1 L610.0,842.6 L611.0,842.1 L612.0,841.5 L613.0,841.0 L614.0,840.4 L615.0,839.8 L616.0,839.3 L617.0,838.7 L618.0,838.1 L619.0,837.5 L620.0,837.0 L621.0,836.4 L622.0,835.8 L623.0,835.1 L624.0,834.5 L625.0,833.9 L626.0,833.3 L627.0,832.6 L628.0,832.0 L629.0,831.4 L630.0,830.7 L631.0,830.0 L632.0,829.4 L633.0,828.7 L634.0,828.0 L635.0,827.3 L636.0,826.6 L637.0,825.9 L638.0,825.2 L639.0,824.4 L640.0,823.7 L641.0,823.0 L642.0,822.2 L643.0,821.4 L644.0,820.7 L645.0,819.9 L646.0,819.1 L647.0,818.3 L648.0,817.5 L649.0,816.7 L650.0,815.8 L651.0,815.0 L652.0,814.1 L653.0,813.3 L654.0,812.4 L655.0,811.5 L656.0,810.6 L657.0,809.7 L658.0,808.7 L659.0,807.8 L660.0,806.8 L661.0,805.8 L662.0,804.9 L663.0,803.8 L664.0,802.8 L665.0,801.8 L666.0,800.7 L667.0,799.7 L668.0,798.6 L669.0,797.5 L670.0,796.4 L671.0,795.3 L672.0,794.2 L673.0,793.1 L674.0,792.1 L675.0,791.0 L676.0,790.0 L677.0,788.9 L678.0,787.9 L679.0,786.9 L680.0,786.0 L681.0,785.0 L682.0,784.0 L683.0,783.1 L684.0,782.1 L685.0,781.2 L686.0,780.3 L687.0,779.3 L688.0,778.4 L689.0,777.5 L690.0,776.6 L691.0,775.6 L692.0,774.7 L693.0,773.8 L694.0,772.9 L695.0,771.9 L696.0,771.0 L697.0,770.0 L698.0,769.1 L699.0,768.1 L700.0,767.2 L701.0,766.2 L702.0,765.2 L703.0,764.2 L704.0,763.1 L705.0,762.1 L706.0,761.0 L707.0,760.0 L708.0,758.9 L709.0,757.8 L710.0,756.7 L711.0,755.6 L712.0,754.5 L713.0,753.4 L714.0,752.3 L715.0,751.2 L716.0,750.1 L717.0,749.0 L718.0,747.9 L719.0,746.9 L720.0,745.9 L721.0,744.8 L722.0,743.8 L723.0,742.8 L724.0,741.8 L725.0,740.8 L726.0,739.9 L727.0,738.9 L728.0,738.0 L729.0,737.0 L730.0,736.1 L731.0,735.2 L732.0,734.3 L733.0,733.4 L734.0,732.5 L735.0,731.6 L736.0,730.8 L737.0,729.9 L738.0,729.1 L739.0,728.2 L740.0,727.4 L741.0,726.6 L742.0,725.8 L743.0,725.0 L744.0,724.2 L745.0,723.4 L746.0,722.7 L747.0,721.9 L748.0,721.2 L749.0,720.4 L750.0,719.7 L751.0,718.9 L752.0,718.2 L753.0,717.5 L754.0,716.8 L755.0,716.1 L756.0,715.4 L757.0,714.8 L758.0,714.1 L759.0,713.4 L760.0,712.8 L761.0,712.1 L762.0,711.5 L763.0,710.9 L764.0,710.3 L765.0,709.6 L766.0,709.0 L767.0,708.4 L768.0,707.8 L769.0,707.3 L770.0,706.7 L771.0,706.1 L772.0,705.6 L773.0,705.0 L774.0,704.4 L775.0,703.9 L776.0,703.4 L777.0,702.8 L778.0,702.3 L779.0,701.8 L780.0,701.3 L781.0,700.8 L782.0,700.3 L783.0,699.8 L784.0,699.3 L785.0,698.8 L786.0,698.4 L787.0,697.9 L788.0,697.4 L789.0,697.0 L790.0,696.5 L791.0,696.1 L792.0,695.6 L793.0,695.2 L794.0,694.8 L795.0,694.4 L796.0,693.9 L797.0,693.5 L798.0,693.1 L799.0,692.7 L800.0,692.3 L801.0,691.9 L802.0,691.6 L803.0,691.2 L804.0,690.8 L805.0,690.4 L806.0,690.0 L807.0,689.7 L808.0,689.3 L809.0,688.9 L810.0,688.6 L811.0,688.2 L812.0,687.8 L813.0,687.5 L814.0,687.1 L815.0,686.7 L816.0,686.4 L817.0,686.0 L818.0,685.6 L819.0,685.2 L820.0,684.9 L821.0,684.5 L822.0,684.1 L823.0,683.7 L824.0,683.3 L825.0,682.9 L826.0,682.5 L827.0,682.1 L828.0,681.7 L829.0,681.3 L830.0,680.9 L831.0,680.5 L832.0,680.0 L833.0,679.6 L834.0,679.1 L835.0,678.7 L836.0,678.2 L837.0,677.7 L838.0,677.2 L839.0,676.7 L840.0,676.2 L841.0,675.7 L842.0,675.1 L843.0,674.6 L844.0,674.0 L845.0,673.4 L846.0,672.8 L847.0,672.2 L848.0,671.6 L849.0,671.0 L850.0,670.4 L851.0,669.7 L852.0,669.0 L853.0,668.4 L854.0,667.7 L855.0,667.0 L856.0,666.2 L857.0,665.5 L858.0,664.7 L859.0,664.0 L860.0,663.2 L861.0,662.4 L862.0,661.6 L863.0,660.7 L864.0,659.9 L865.0,659.0 L866.0,658.2 L867.0,657.3 L868.0,656.4 L869.0,655.4 L870.0,654.5 L871.0,653.5 L872.0,652.6 L873.0,651.6 L874.0,650.5 L875.0,649.5 L876.0,648.5 L877.0,647.4 L878.0,646.3 L879.0,645.2 L880.0,644.1 L881.0,642.9 L882.0,641.8 L883.0,640.6 L884.0,639.4 L885.0,638.1 L886.0,636.9 L887.0,635.6 L888.0,634.3 L889.0,633.0 L890.0,631.7 L891.0,630.3 L892.0,629.0 L893.0,627.6 L894.0,626.1 L895.0,624.7 L896.0,623.2 L897.0,621.7 L898.0,620.2 L899.0,618.7 L900.0,617.1 L901.0,615.6 L902.0,614.0 L903.0,612.3 L904.0,610.7 L905.0,609.0 L906.0,607.4 L907.0,605.6 L908.0,603.9 L909.0,602.2 L910.0,600.4 L911.0,598.6 L912.0,596.7 L913.0,594.9 L914.0,593.0 L915.0,591.1 L916.0,589.2 L917.0,587.3 L918.0,585.3 L919.0,583.3 L920.0,581.3 L921.0,579.3 L922.0,577.2 L923.0,575.2 L924.0,573.1 L925.0,571.0 L926.0,568.9 L927.0,566.7 L928.0,564.6 L929.0,562.4 L930.0,560.2 L931.0,558.0 L932.0,555.7 L933.0,553.5 L934.0,551.2 L935.0,548.9 L936.0,546.6 L937.0,544.2 L938.0,541.9 L939.0,539.5 L940.0,537.1 L941.0,534.7 L942.0,532.2 L943.0,529.8 L944.0,527.3 L945.0,524.8 L946.0,522.2 L947.0,519.7 L948.0,517.1 L949.0,514.5 L950.0,511.8 L951.0,509.2 L952.0,506.5 L953.0,503.8 L954.0,501.1 L955.0,498.4 L956.0,495.7 L957.0,492.9 L958.0,490.2 L959.0,487.4 L960.0,484.6 L961.0,481.8 L962.0,479.0 L963.0,476.2 L964.0,473.4 L965.0,470.6 L966.0,467.8 L967.0,464.9 L968.0,462.1 L969.0,459.2 L970.0,456.4 L971.0,453.5 L972.0,450.7 L973.0,447.8 L974.0,444.9 L975.0,442.1 L976.0,439.2 L977.0,436.4 L978.0,433.5 L979.0,430.7 L980.0,427.9 L981.0,425.0 L982.0,422.2 L983.0,419.4 L984.0,416.6 L985.0,413.8 L986.0,411.1 L987.0,408.3 L988.0,405.5 L989.0,402.8 L990.0,400.1 L991.0,397.3 L992.0,394.5 L993.0,391.7 L994.0,388.9 L995.0,386.2 L996.0,383.5 L997.0,380.7 L998.0,378.0 L999.0,375.4 L1000.0,372.7 L1001.0,370.1 L1002.0,367.5 L1003.0,364.9 L1004.0,362.3 L1005.0,359.7 L1006.0,357.2 L1007.0,354.7 L1008.0,352.2 L1009.0,349.7 L1010.0,347.2 L1011.0,344.8 L1012.0,342.3 L1013.0,339.9 L1014.0,337.6 L1015.0,335.2 L1016.0,332.9 L1017.0,330.6 L1018.0,328.4 L1019.0,326.2 L1020.0,324.0 L1021.0,321.9 L1022.0,319.9 L1023.0,317.9 L1024.0,316.0 L1025.0,314.1 L1026.0,312.3 L1027.0,310.6 L1028.0,308.9 L1029.0,307.3 L1030.0,305.7 L1031.0,304.2 L1032.0,302.8 L1033.0,301.4 L1034.0,300.0 L1035.0,298.7 L1036.0,297.5 L1037.0,296.6 L1038.0,295.7 L1039.0,294.9 L1040.0,294.1 L1041.0,293.3 L1042.0,292.6 L1043.0,291.9 L1044.0,291.3 L1045.0,290.7 L1046.0,290.1 L1047.0,289.6 L1048.0,289.1 L1049.0,288.7 L1050.0,288.3 L1051.0,288.0 L1052.0,287.7 L1053.0,287.6 L1054.0,287.5 L1055.0,287.5 L1056.0,287.6 L1057.0,287.7 L1058.0,287.7 L1059.0,287.8 L1060.0,288.0 L1061.0,288.2 L1062.0,288.5 L1063.0,288.9 L1064.0,289.3 L1065.0,289.9 L1066.0,290.4 L1067.0,291.0 L1068.0,291.7 L1069.0,292.4 L1070.0,293.2 L1071.0,294.0 L1072.0,294.9 L1073.0,295.9 L1074.0,296.9 L1075.0,297.9 L1076.0,299.0 L1077.0,300.2 L1078.0,301.4 L1079.0,302.7 L1080.0,304.1 L1081.0,305.6 L1082.0,307.2 L1083.0,308.9 L1084.0,310.7 L1085.0,312.6 L1086.0,314.7 L1087.0,316.8 L1088.0,319.0 L1089.0,321.3 L1090.0,323.7 L1091.0,326.1 L1092.0,328.7 L1093.0,331.3 L1094.0,334.0 L1095.0,336.7 L1096.0,339.4 L1097.0,342.2 L1098.0,345.0 L1099.0,348.0 L1100.0,351.0 L1101.0,354.0 L1102.0,357.0 L1103.0,360.1 L1104.0,363.3 L1105.0,366.4 L1106.0,369.6 L1107.0,372.8 L1108.0,376.0 L1109.0,379.3 L1110.0,382.6 L1111.0,385.9 L1112.0,389.2 L1113.0,392.6 L1114.0,396.0 L1115.0,399.5 L1116.0,402.9 L1117.0,406.4 L1118.0,410.0 L1119.0,413.5 L1120.0,417.1 L1121.0,420.8 L1122.0,424.4 L1123.0,428.1 L1124.0,431.8 L1125.0,435.5 L1126.0,439.3 L1127.0,443.1 L1128.0,446.9 L1129.0,450.8 L1130.0,454.7 L1131.0,458.5 L1132.0,462.4 L1133.0,466.4 L1134.0,470.3 L1135.0,474.3 L1136.0,478.3 L1137.0,482.3 L1138.0,486.3 L1139.0,490.4 L1140.0,494.5 L1141.0,498.5 L1142.0,502.7 L1143.0,506.8 L1144.0,510.9 L1145.0,515.1 L1146.0,519.2 L1147.0,523.4 L1148.0,527.6 L1149.0,531.7 L1150.0,535.9 L1151.0,540.1 L1152.0,544.3 L1153.0,548.5 L1154.0,552.7 L1155.0,556.9 L1156.0,561.1 L1157.0,565.2 L1158.0,569.4 L1159.0,573.6 L1160.0,577.7 L1161.0,581.9 L1162.0,586.0 L1163.0,590.1 L1164.0,594.2 L1165.0,598.3 L1166.0,602.4 L1167.0,606.4 L1168.0,610.4 L1169.0,614.4 L1170.0,618.4 L1171.0,622.4 L1172.0,626.3 L1173.0,630.2 L1174.0,634.1 L1175.0,638.0 L1176.0,641.8 L1177.0,645.6 L1178.0,649.4 L1179.0,653.2 L1180.0,656.9 L1181.0,660.6 L1182.0,664.3 L1183.0,667.9 L1184.0,671.5 L1185.0,675.1 L1186.0,678.6 L1187.0,682.2 L1188.0,685.6 L1189.0,689.1 L1190.0,692.5 L1191.0,695.9 L1192.0,699.3 L1193.0,702.6 L1194.0,705.9 L1195.0,709.2 L1196.0,712.5 L1197.0,715.7 L1198.0,718.9 L1199.0,722.0 L1200.0,725.2 L1201.0,728.2 L1202.0,731.3 L1203.0,734.3 L1204.0,737.3 L1205.0,740.2 L1206.0,743.1 L1207.0,746.0 L1208.0,748.8 L1209.0,751.6 L1210.0,754.3 L1211.0,757.1 L1212.0,759.8 L1213.0,762.4 L1214.0,765.0 L1215.0,767.6 L1216.0,770.1 L1217.0,772.6 L1218.0,775.1 L1219.0,777.5 L1220.0,779.9 L1221.0,782.3 L1222.0,784.6 L1223.0,786.9 L1224.0,789.2 L1225.0,791.4 L1226.0,793.7 L1227.0,795.8 L1228.0,798.0 L1229.0,800.1 L1230.0,802.2 L1231.0,804.2 L1232.0,806.3 L1233.0,808.3 L1234.0,810.3 L1235.0,812.2 L1236.0,814.1 L1237.0,816.0 L1238.0,817.9 L1239.0,819.7 L1240.0,821.5 L1241.0,823.3 L1242.0,825.0 L1243.0,826.7 L1244.0,828.4 L1245.0,830.1 L1246.0,831.7 L1247.0,833.3 L1248.0,834.9 L1249.0,836.5 L1250.0,838.0 L1251.0,839.5 L1252.0,841.0 L1253.0,842.5 L1254.0,843.9 L1255.0,845.3 L1256.0,846.7 L1257.0,848.1 L1258.0,849.5 L1259.0,850.8 L1260.0,852.1 L1261.0,853.4 L1262.0,854.6 L1263.0,855.9 L1264.0,857.1 L1265.0,858.3 L1266.0,859.5 L1267.0,860.6 L1268.0,861.8 L1269.0,862.9 L1270.0,864.0 L1271.0,865.1 L1272.0,866.1 L1273.0,867.2 L1274.0,868.2 L1275.0,869.2 L1276.0,870.2 L1277.0,871.2 L1278.0,872.1 L1279.0,873.1 L1280.0,874.0 L1281.0,874.9 L1282.0,875.8 L1283.0,876.7 L1284.0,877.5 L1285.0,878.4 L1286.0,879.2 L1287.0,880.0 L1288.0,880.8 L1289.0,881.6 L1290.0,882.4 L1291.0,883.1 L1292.0,883.9 L1293.0,884.6 L1294.0,885.3 L1295.0,886.0 L1296.0,886.7 L1297.0,887.4 L1298.0,888.0 L1299.0,888.7 L1300.0,889.3 L1301.0,889.9 L1302.0,890.5 L1303.0,891.1 L1304.0,891.7 L1305.0,892.3 L1306.0,892.9 L1307.0,893.4 L1308.0,893.9 L1309.0,894.5 L1310.0,895.0 L1311.0,895.5 L1312.0,896.0 L1313.0,896.5 L1314.0,896.9 L1315.0,897.4 L1316.0,897.8 L1317.0,898.3 L1318.0,898.7 L1319.0,899.1 L1320.0,899.5 L1321.0,899.9 L1322.0,900.3 L1323.0,900.7 L1324.0,901.1 L1325.0,901.4 L1326.0,901.8 L1327.0,902.1 L1328.0,902.4 L1329.0,902.8 L1330.0,903.1 L1331.0,903.4 L1332.0,903.7 L1333.0,904.0 L1334.0,904.3 L1335.0,904.6 L1336.0,904.9 L1337.0,905.2 L1338.0,905.5 L1339.0,905.8 L1340.0,906.1 L1341.0,906.4 L1342.0,906.7 L1343.0,907.0 L1344.0,907.3 L1345.0,907.6 L1346.0,907.9 L1347.0,908.2 L1348.0,908.5 L1349.0,908.7 L1350.0,909.0 L1351.0,909.2 L1352.0,909.5 L1353.0,909.7 L1354.0,909.9 L1355.0,910.1 L1356.0,910.3 L1357.0,910.5 L1358.0,910.7 L1359.0,910.9 L1360.0,911.0 L1361.0,911.2 L1362.0,911.4 L1363.0,911.5 L1364.0,911.7 L1365.0,911.8 L1366.0,912.0 L1367.0,912.1 L1368.0,912.3 L1369.0,912.4 L1370.0,912.5 L1371.0,912.7 L1372.0,912.8 L1373.0,912.9 L1374.0,913.0 L1375.0,913.1 L1376.0,913.2 L1377.0,913.4 L1378.0,913.5 L1379.0,913.6 L1380.0,913.6 L1381.0,913.7 L1382.0,913.8 L1383.0,913.9 L1384.0,914.0 L1385.0,914.1 L1386.0,914.1 L1387.0,914.2 L1388.0,914.3 L1389.0,914.4 L1390.0,914.4 L1391.0,914.5 L1392.0,914.6 L1393.0,914.7 L1394.0,914.7 L1395.0,914.8 L1396.0,914.9 L1397.0,915.0 L1398.0,915.0 L1399.0,915.1 L1400.0,915.2 L1401.0,915.2 L1402.0,915.3 L1403.0,915.3 L1404.0,915.4 L1405.0,915.5 L1406.0,915.5 L1407.0,915.6 L1408.0,915.6 L1409.0,915.7 L1410.0,915.8 L1411.0,915.8 L1412.0,915.9 L1413.0,915.9 L1414.0,916.0 L1415.0,916.0 L1416.0,916.0 L1417.0,916.1 L1418.0,916.1 L1419.0,916.2 L1420.0,916.2 L1421.0,916.2 L1422.0,916.2 L1423.0,916.3 L1424.0,916.3 L1425.0,916.3 L1426.0,916.3 L1427.0,916.4 L1428.0,916.4 L1429.0,916.4 L1430.0,916.4 L1431.0,916.4 L1432.0,916.4 L1433.0,916.4 L1434.0,916.4 L1435.0,916.4 L1436.0,916.4 L1437.0,916.5 L1438.0,916.5 L1439.0,916.5 L1440.0,916.5 L1441.0,916.5 L1442.0,916.5 L1443.0,916.5 L1444.0,916.5 L1445.0,916.5 L1446.0,916.5 L1447.0,916.5 L1448.0,916.5 L1449.0,916.5 L1450.0,916.5 L1451.0,916.5 L1452.0,916.6 L1453.0,916.6 L1454.0,916.6 L1455.0,916.6 L1456.0,916.6 L1457.0,916.6 L1458.0,916.6 L1459.0,916.6 L1460.0,916.6 L1461.0,916.6 L1462.0,916.6 L1463.0,916.6 L1464.0,916.6 L1465.0,916.6 L1466.0,916.6 L1467.0,916.6 L1468.0,916.6 L1469.0,916.6 L1470.0,916.6 L1471.0,916.6 L1472.0,916.6 L1473.0,916.6 L1474.0,916.6 L1475.0,916.6 L1476.0,916.6 L1477.0,916.7 L1478.0,916.7 L1479.0,916.7 L1480.0,916.7 L1481.0,916.7 L1482.0,916.7 L1483.0,916.7 L1484.0,916.7 L1485.0,916.7 L1486.0,916.7 L1487.0,916.7 L1488.0,916.7 L1489.0,916.7 L1490.0,916.7 L1491.0,916.7 L1492.0,916.7 L1493.0,916.7 L1494.0,916.7 L1495.0,916.7 L1496.0,916.7 L1497.0,916.7 L1498.0,916.7 L1499.0,916.7 L1500.0,916.7 L1501.0,916.7 L1502.0,916.7 L1503.0,916.7 L1504.0,916.7 L1505.0,916.7 L1506.0,916.7 L1507.0,916.7 L1508.0,916.7 L1509.0,916.7 L1510.0,916.7 L1511.0,916.7 L1512.0,916.7 L1513.0,916.7 L1514.0,916.7 L1515.0,916.7 L1516.0,916.7 L1517.0,916.7 L1518.0,916.7 L1519.0,916.7 L1520.0,916.7 L1521.0,916.7 L1522.0,916.7 L1523.0,916.7 L1524.0,916.7 L1525.0,916.7 L1526.0,916.7 L1527.0,916.7 L1528.0,916.7 L1529.0,916.7 L1530.0,916.7 L1531.0,916.7 L1532.0,916.7 L1533.0,916.7 L1534.0,916.7 L1535.0,916.7 L1536.0,916.7 L1537.0,916.7 L1538.0,916.8 L1539.0,916.8 L1540.0,916.8 L1541.0,916.8 L1542.0,916.8 L1543.0,916.8 L1544.0,916.8 L1545.0,916.8 L1546.0,916.8 L1547.0,916.8 L1548.0,916.8 L1549.0,916.8 L1550.0,916.8 L1551.0,916.8 L1552.0,916.8 L1553.0,916.8 L1554.0,916.8 L1555.0,916.8 L1556.0,916.8 L1557.0,916.8 L1558.0,916.8 L1559.0,916.8 L1560.0,916.8 L1561.0,916.8 L1562.0,916.8 L1563.0,916.8 L1564.0,916.8 L1565.0,916.8 L1566.0,916.8 L1567.0,916.8 L1568.0,916.8 L1569.0,916.8 L1570.0,916.8 L1571.0,916.8 L1572.0,916.8 L1573.0,916.8 L1574.0,916.8 L1575.0,916.8 L1576.0,916.8 L1577.0,916.8 L1578.0,916.8 L1579.0,916.8 L1580.0,916.8 L1581.0,916.8 L1582.0,916.8 L1583.0,916.8 L1584.0,916.8 L1585.0,916.8 L1586.0,916.8 L1587.0,916.8 L1588.0,916.8 L1589.0,916.8 L1590.0,916.8 L1591.0,916.8 L1592.0,916.8 L1593.0,916.8 L1594.0,916.8 L1595.0,916.8 L1596.0,916.8 L1597.0,916.8 L1598.0,916.8 L1599.0,916.8 L1600.0,916.8 L1601.0,916.8 L1602.0,916.8 L1603.0,916.8 L1604.0,916.8 L1605.0,916.8 L1606.0,916.8 L1607.0,916.8 L1608.0,916.8 L1609.0,916.8 L1610.0,916.8 L1611.0,916.8 L1612.0,916.8 L1613.0,916.8 L1614.0,916.8 L1615.0,916.8 L1616.0,916.8 L1617.0,916.8 L1618.0,916.8 L1619.0,916.8 L1620.0,916.8 L1621.0,916.8 L1622.0,916.8 L1623.0,916.8 L1624.0,916.8 L1625.0,916.8 L1626.0,916.8 L1627.0,916.8 L1628.0,916.8 L1629.0,916.8 L1630.0,916.8 L1631.0,916.8 L1632.0,916.8 L1633.0,916.8 L1634.0,916.8 L1635.0,916.8 L1636.0,916.8 L1637.0,916.8 L1638.0,916.8 L1639.0,916.9 L1640.0,916.9 L1641.0,916.9 L1642.0,916.9 L1643.0,916.9 L1644.0,916.9 L1645.0,916.9 L1646.0,916.9 L1647.0,916.9 L1648.0,916.9 L1649.0,916.9 L1650.0,916.9 L1651.0,916.9 L1652.0,916.9 L1653.0,916.9 L1654.0,916.9 L1655.0,916.9 L1656.0,916.9 L1657.0,916.9 L1658.0,916.9 L1659.0,916.9 L1660.0,916.9 L1661.0,916.9 L1662.0,916.9 L1663.0,916.9 L1664.0,916.9 L1665.0,916.9 L1666.0,916.9 L1667.0,916.9 L1668.0,916.9 L1669.0,916.9 L1670.0,916.9 L1671.0,916.9 L1672.0,916.9 L1673.0,916.9 L1674.0,916.9 L1675.0,916.9 L1676.0,916.9 L1677.0,916.9 L1678.0,916.9 L1679.0,916.9 L1680.0,916.9 L1681.0,916.9 L1682.0,916.9 L1683.0,916.9 L1684.0,916.9 L1685.0,916.9 L1686.0,916.9 L1687.0,916.9 L1688.0,916.9 L1689.0,916.9 L1690.0,916.9 L1691.0,916.9 L1692.0,916.9 L1693.0,916.9 L1694.0,916.9 L1695.0,916.9 L1696.0,916.9 L1697.0,916.9 L1698.0,916.9 L1699.0,916.9 L1700.0,916.9 L1701.0,916.9 L1702.0,916.9 L1703.0,916.9 L1704.0,916.9 L1705.0,916.9 L1706.0,916.9 L1707.0,916.9 L1708.0,916.9 L1709.0,916.9 L1710.0,916.9 L1711.0,916.9 L1712.0,916.9 L1713.0,916.9 L1714.0,916.9 L1715.0,916.9 L1716.0,916.9 L1717.0,916.9 L1718.0,916.9 L1719.0,916.9 L1720.0,916.9 L1721.0,916.9 L1722.0,916.9 L1723.0,916.9 L1724.0,916.9 L1725.0,916.9 L1726.0,916.9 L1727.0,916.9 L1728.0,916.9 L1729.0,916.9 L1730.0,916.9 L1731.0,916.9 L1732.0,916.9 L1733.0,916.9 L1734.0,916.9 L1735.0,916.9 L1736.0,916.9 L1737.0,916.9 L1738.0,916.9 L1739.0,916.9 L1740.0,916.9 L1741.0,916.9 L1742.0,916.9 L1743.0,916.9 L1744.0,916.9 L1745.0,916.9 L1746.0,916.9 L1747.0,916.9 L1748.0,916.9 L1749.0,916.9 L1750.0,916.9 L1751.0,916.9 L1752.0,916.9 L1753.0,916.9 L1754.0,916.9 L1755.0,916.9 L1756.0,916.9 L1757.0,916.9 L1758.0,916.9 L1759.0,916.9 L1760.0,916.9 L1761.0,916.9 L1762.0,916.9 L1763.0,916.9 L1764.0,916.9 L1765.0,916.9 L1766.0,916.9 L1767.0,916.9 L1768.0,916.9 L1769.0,916.9 L1770.0,916.9" stroke="#5E9B3C" stroke-linecap="round" stroke-dasharray="39 52" stroke-dashoffset="66"/>
<path d="M285.5,910.4 L286.0,910.4 L287.0,910.3 L288.0,910.3 L289.0,910.2 L290.0,910.2 L291.0,910.1 L292.0,910.1 L293.0,910.0 L294.0,910.0 L295.0,909.9 L296.0,909.9 L297.0,909.8 L298.0,909.8 L299.0,909.7 L300.0,909.7 L301.0,909.6 L302.0,909.6 L303.0,909.5 L304.0,909.5 L305.0,909.4 L306.0,909.4 L307.0,909.3 L308.0,909.3 L309.0,909.2 L310.0,909.2 L311.0,909.1 L312.0,909.1 L313.0,909.0 L314.0,909.0 L315.0,908.9 L316.0,908.9 L317.0,908.8 L318.0,908.8 L319.0,908.7 L320.0,908.7 L321.0,908.6 L322.0,908.6 L323.0,908.5 L324.0,908.5 L325.0,908.4 L326.0,908.4 L327.0,908.3 L328.0,908.3 L329.0,908.2 L330.0,908.2 L331.0,908.1 L332.0,908.1 L333.0,908.0 L334.0,907.9 L335.0,907.9 L336.0,907.8 L337.0,907.8 L338.0,907.7 L339.0,907.6 L340.0,907.6 L341.0,907.5 L342.0,907.4 L343.0,907.4 L344.0,907.3 L345.0,907.2 L346.0,907.2 L347.0,907.1 L348.0,907.0 L349.0,906.9 L350.0,906.9 L351.0,906.8 L352.0,906.7 L353.0,906.6 L354.0,906.5 L355.0,906.5 L356.0,906.4 L357.0,906.3 L358.0,906.2 L359.0,906.1 L360.0,906.0 L361.0,905.9 L362.0,905.8 L363.0,905.7 L364.0,905.6 L365.0,905.5 L366.0,905.4 L367.0,905.3 L368.0,905.2 L369.0,905.1 L370.0,905.0 L371.0,904.9 L372.0,904.8 L373.0,904.6 L374.0,904.5 L375.0,904.4 L376.0,904.3 L377.0,904.2 L378.0,904.0 L379.0,903.9 L380.0,903.8 L381.0,903.6 L382.0,903.5 L383.0,903.3 L384.0,903.2 L385.0,903.1 L386.0,902.9 L387.0,902.8 L388.0,902.6 L389.0,902.5 L390.0,902.3 L391.0,902.2 L392.0,902.0 L393.0,901.8 L394.0,901.7 L395.0,901.5 L396.0,901.4 L397.0,901.2 L398.0,901.0 L399.0,900.8 L400.0,900.7 L401.0,900.5 L402.0,900.3 L403.0,900.2 L404.0,900.0 L405.0,899.8 L406.0,899.6 L407.0,899.4 L408.0,899.3 L409.0,899.1 L410.0,898.9 L411.0,898.7 L412.0,898.5 L413.0,898.3 L414.0,898.1 L415.0,897.9 L416.0,897.8 L417.0,897.6 L418.0,897.4 L419.0,897.2 L420.0,897.0 L421.0,896.8 L422.0,896.6 L423.0,896.4 L424.0,896.2 L425.0,896.0 L426.0,895.8 L427.0,895.6 L428.0,895.4 L429.0,895.2 L430.0,895.0 L431.0,894.8 L432.0,894.6 L433.0,894.3 L434.0,894.1 L435.0,893.9 L436.0,893.7 L437.0,893.5 L438.0,893.3 L439.0,893.1 L440.0,892.9 L441.0,892.7 L442.0,892.5 L443.0,892.3 L444.0,892.1 L445.0,891.9 L446.0,891.6 L447.0,891.4 L448.0,891.2 L449.0,891.0 L450.0,890.8 L451.0,890.6 L452.0,890.4 L453.0,890.2 L454.0,890.0 L455.0,889.8 L456.0,889.6 L457.0,889.3 L458.0,889.1 L459.0,888.9 L460.0,888.7 L461.0,888.5 L462.0,888.3 L463.0,888.1 L464.0,887.9 L465.0,887.7 L466.0,887.5 L467.0,887.2 L468.0,887.0 L469.0,886.8 L470.0,886.6 L471.0,886.4 L472.0,886.2 L473.0,886.0 L474.0,885.8 L475.0,885.5 L476.0,885.3 L477.0,885.1 L478.0,884.9 L479.0,884.7 L480.0,884.5 L481.0,884.3 L482.0,884.0 L483.0,883.8 L484.0,883.6 L485.0,883.4 L486.0,883.2 L487.0,882.9 L488.0,882.7 L489.0,882.5 L490.0,882.3 L491.0,882.0 L492.0,881.8 L493.0,881.6 L494.0,881.4 L495.0,881.1 L496.0,880.9 L497.0,880.7 L498.0,880.5 L499.0,880.2 L500.0,880.0 L501.0,879.8 L502.0,879.5 L503.0,879.3 L504.0,879.0 L505.0,878.8 L506.0,878.6 L507.0,878.3 L508.0,878.1 L509.0,877.8 L510.0,877.6 L511.0,877.4 L512.0,877.1 L513.0,876.9 L514.0,876.6 L515.0,876.4 L516.0,876.1 L517.0,875.8 L518.0,875.6 L519.0,875.3 L520.0,875.1 L521.0,874.8 L522.0,874.6 L523.0,874.3 L524.0,874.0 L525.0,873.8 L526.0,873.5 L527.0,873.2 L528.0,872.9 L529.0,872.7 L530.0,872.4 L531.0,872.1 L532.0,871.8 L533.0,871.6 L534.0,871.3 L535.0,871.0 L536.0,870.7 L537.0,870.4 L538.0,870.1 L539.0,869.8 L540.0,869.5 L541.0,869.2 L542.0,868.9 L543.0,868.6 L544.0,868.3 L545.0,868.0 L546.0,867.7 L547.0,867.4 L548.0,867.1 L549.0,866.8 L550.0,866.4 L551.0,866.1 L552.0,865.8 L553.0,865.5 L554.0,865.1 L555.0,864.8 L556.0,864.5 L557.0,864.1 L558.0,863.8 L559.0,863.4 L560.0,863.1 L561.0,862.8 L562.0,862.4 L563.0,862.1 L564.0,861.7 L565.0,861.3 L566.0,861.0 L567.0,860.6 L568.0,860.2 L569.0,859.9 L570.0,859.5 L571.0,859.1 L572.0,858.7 L573.0,858.4 L574.0,858.0 L575.0,857.6 L576.0,857.2 L577.0,856.8 L578.0,856.4 L579.0,856.0 L580.0,855.6 L581.0,855.2 L582.0,854.7 L583.0,854.3 L584.0,853.9 L585.0,853.5 L586.0,853.0 L587.0,852.6 L588.0,852.2 L589.0,851.7 L590.0,851.3 L591.0,850.8 L592.0,850.4 L593.0,849.9 L594.0,849.5 L595.0,849.0 L596.0,848.5 L597.0,848.1 L598.0,847.6 L599.0,847.1 L600.0,846.6 L601.0,846.1 L602.0,845.6 L603.0,845.1 L604.0,844.6 L605.0,844.1 L606.0,843.6 L607.0,843.1 L608.0,842.6 L609.0,842.0 L610.0,841.5 L611.0,841.0 L612.0,840.4 L613.0,839.9 L614.0,839.3 L615.0,838.7 L616.0,838.2 L617.0,837.6 L618.0,837.0 L619.0,836.4 L620.0,835.8 L621.0,835.2 L622.0,834.6 L623.0,834.0 L624.0,833.4 L625.0,832.8 L626.0,832.2 L627.0,831.5 L628.0,830.9 L629.0,830.2 L630.0,829.6 L631.0,828.9 L632.0,828.2 L633.0,827.6 L634.0,826.9 L635.0,826.2 L636.0,825.5 L637.0,824.8 L638.0,824.0 L639.0,823.3 L640.0,822.6 L641.0,821.8 L642.0,821.1 L643.0,820.3 L644.0,819.5 L645.0,818.8 L646.0,818.0 L647.0,817.2 L648.0,816.4 L649.0,815.5 L650.0,814.7 L651.0,813.8 L652.0,813.0 L653.0,812.1 L654.0,811.2 L655.0,810.3 L656.0,809.4 L657.0,808.5 L658.0,807.6 L659.0,806.6 L660.0,805.7 L661.0,804.7 L662.0,803.7 L663.0,802.7 L664.0,801.7 L665.0,800.6 L666.0,799.6 L667.0,798.5 L668.0,797.4 L669.0,796.4 L670.0,795.3 L671.0,794.2 L672.0,793.1 L673.0,792.0 L674.0,790.9 L675.0,789.9 L676.0,788.8 L677.0,787.8 L678.0,786.8 L679.0,785.8 L680.0,784.8 L681.0,783.8 L682.0,782.9 L683.0,781.9 L684.0,781.0 L685.0,780.0 L686.0,779.1 L687.0,778.2 L688.0,777.2 L689.0,776.3 L690.0,775.4 L691.0,774.5 L692.0,773.6 L693.0,772.6 L694.0,771.7 L695.0,770.8 L696.0,769.8 L697.0,768.9 L698.0,767.9 L699.0,767.0 L700.0,766.0 L701.0,765.0 L702.0,764.0 L703.0,763.0 L704.0,762.0 L705.0,760.9 L706.0,759.9 L707.0,758.8 L708.0,757.7 L709.0,756.6 L710.0,755.5 L711.0,754.4 L712.0,753.3 L713.0,752.2 L714.0,751.1 L715.0,750.0 L716.0,748.9 L717.0,747.8 L718.0,746.8 L719.0,745.7 L720.0,744.7 L721.0,743.6 L722.0,742.6 L723.0,741.6 L724.0,740.6 L725.0,739.7 L726.0,738.7 L727.0,737.7 L728.0,736.8 L729.0,735.8 L730.0,734.9 L731.0,734.0 L732.0,733.1 L733.0,732.2 L734.0,731.3 L735.0,730.4 L736.0,729.6 L737.0,728.7 L738.0,727.9 L739.0,727.0 L740.0,726.2 L741.0,725.4 L742.0,724.6 L743.0,723.8 L744.0,723.0 L745.0,722.2 L746.0,721.5 L747.0,720.7 L748.0,720.0 L749.0,719.2 L750.0,718.5 L751.0,717.7 L752.0,717.0 L753.0,716.3 L754.0,715.6 L755.0,714.9 L756.0,714.2 L757.0,713.6 L758.0,712.9 L759.0,712.2 L760.0,711.6 L761.0,710.9 L762.0,710.3 L763.0,709.7 L764.0,709.1 L765.0,708.4 L766.0,707.8 L767.0,707.2 L768.0,706.6 L769.0,706.1 L770.0,705.5 L771.0,704.9 L772.0,704.3 L773.0,703.8 L774.0,703.2 L775.0,702.7 L776.0,702.1 L777.0,701.6 L778.0,701.1 L779.0,700.6 L780.0,700.1 L781.0,699.6 L782.0,699.1 L783.0,698.6 L784.0,698.1 L785.0,697.6 L786.0,697.1 L787.0,696.7 L788.0,696.2 L789.0,695.7 L790.0,695.3 L791.0,694.9 L792.0,694.4 L793.0,694.0 L794.0,693.6 L795.0,693.1 L796.0,692.7 L797.0,692.3 L798.0,691.9 L799.0,691.5 L800.0,691.1 L801.0,690.7 L802.0,690.3 L803.0,689.9 L804.0,689.6 L805.0,689.2 L806.0,688.8 L807.0,688.4 L808.0,688.1 L809.0,687.7 L810.0,687.3 L811.0,687.0 L812.0,686.6 L813.0,686.2 L814.0,685.9 L815.0,685.5 L816.0,685.1 L817.0,684.7 L818.0,684.4 L819.0,684.0 L820.0,683.6 L821.0,683.2 L822.0,682.9 L823.0,682.5 L824.0,682.1 L825.0,681.7 L826.0,681.3 L827.0,680.9 L828.0,680.5 L829.0,680.1 L830.0,679.6 L831.0,679.2 L832.0,678.8 L833.0,678.3 L834.0,677.9 L835.0,677.4 L836.0,676.9 L837.0,676.4 L838.0,676.0 L839.0,675.4 L840.0,674.9 L841.0,674.4 L842.0,673.9 L843.0,673.3 L844.0,672.7 L845.0,672.2 L846.0,671.6 L847.0,671.0 L848.0,670.4 L849.0,669.7 L850.0,669.1 L851.0,668.4 L852.0,667.8 L853.0,667.1 L854.0,666.4 L855.0,665.7 L856.0,665.0 L857.0,664.2 L858.0,663.5 L859.0,662.7 L860.0,661.9 L861.0,661.1 L862.0,660.3 L863.0,659.5 L864.0,658.6 L865.0,657.8 L866.0,656.9 L867.0,656.0 L868.0,655.1 L869.0,654.2 L870.0,653.2 L871.0,652.3 L872.0,651.3 L873.0,650.3 L874.0,649.3 L875.0,648.2 L876.0,647.2 L877.0,646.1 L878.0,645.0 L879.0,643.9 L880.0,642.8 L881.0,641.6 L882.0,640.5 L883.0,639.3 L884.0,638.1 L885.0,636.8 L886.0,635.6 L887.0,634.3 L888.0,633.0 L889.0,631.7 L890.0,630.4 L891.0,629.0 L892.0,627.7 L893.0,626.3 L894.0,624.8 L895.0,623.4 L896.0,621.9 L897.0,620.4 L898.0,618.9 L899.0,617.4 L900.0,615.8 L901.0,614.2 L902.0,612.6 L903.0,611.0 L904.0,609.3 L905.0,607.7 L906.0,606.0 L907.0,604.2 L908.0,602.5 L909.0,600.7 L910.0,598.9 L911.0,597.1 L912.0,595.3 L913.0,593.4 L914.0,591.5 L915.0,589.6 L916.0,587.6 L917.0,585.7 L918.0,583.7 L919.0,581.7 L920.0,579.7 L921.0,577.6 L922.0,575.6 L923.0,573.5 L924.0,571.4 L925.0,569.3 L926.0,567.2 L927.0,565.0 L928.0,562.8 L929.0,560.6 L930.0,558.4 L931.0,556.2 L932.0,553.9 L933.0,551.7 L934.0,549.4 L935.0,547.0 L936.0,544.7 L937.0,542.4 L938.0,540.0 L939.0,537.6 L940.0,535.2 L941.0,532.7 L942.0,530.3 L943.0,527.8 L944.0,525.3 L945.0,522.8 L946.0,520.3 L947.0,517.7 L948.0,515.1 L949.0,512.6 L950.0,510.0 L951.0,507.3 L952.0,504.7 L953.0,502.0 L954.0,499.4 L955.0,496.7 L956.0,494.0 L957.0,491.3 L958.0,488.5 L959.0,485.8 L960.0,483.0 L961.0,480.3 L962.0,477.5 L963.0,474.7 L964.0,471.9 L965.0,469.1 L966.0,466.3 L967.0,463.5 L968.0,460.7 L969.0,457.9 L970.0,455.0 L971.0,452.2 L972.0,449.4 L973.0,446.5 L974.0,443.7 L975.0,440.9 L976.0,438.1 L977.0,435.2 L978.0,432.4 L979.0,429.6 L980.0,426.8 L981.0,424.0 L982.0,421.2 L983.0,418.4 L984.0,415.7 L985.0,412.9 L986.0,410.2 L987.0,407.4 L988.0,404.7 L989.0,402.0 L990.0,399.3 L991.0,396.6 L992.0,393.9 L993.0,391.3 L994.0,388.7 L995.0,386.0 L996.0,383.4 L997.0,380.9 L998.0,378.3 L999.0,375.8 L1000.0,373.2 L1001.0,370.7 L1002.0,368.2 L1003.0,365.8 L1004.0,363.3 L1005.0,360.9 L1006.0,358.5 L1007.0,356.1 L1008.0,353.7 L1009.0,351.4 L1010.0,349.0 L1011.0,346.7 L1012.0,344.4 L1013.0,342.2 L1014.0,339.9 L1015.0,337.7 L1016.0,335.5 L1017.0,333.3 L1018.0,331.2 L1019.0,329.0 L1020.0,327.0 L1021.0,325.0 L1022.0,323.0 L1023.0,321.1 L1024.0,319.3 L1025.0,317.6 L1026.0,315.9 L1027.0,314.2 L1028.0,312.6 L1029.0,311.1 L1030.0,309.7 L1031.0,308.2 L1032.0,306.9 L1033.0,305.6 L1034.0,304.3 L1035.0,303.1 L1036.0,302.0 L1037.0,300.9 L1038.0,299.8 L1039.0,298.7 L1040.0,297.7 L1041.0,296.8 L1042.0,295.8 L1043.0,294.9 L1044.0,294.1 L1045.0,293.2 L1046.0,292.4 L1047.0,291.7 L1048.0,291.0 L1049.0,290.4 L1050.0,289.8 L1051.0,289.3 L1052.0,288.8 L1053.0,288.4 L1054.0,288.1 L1055.0,287.9 L1056.0,287.8 L1057.0,287.7 L1058.0,287.7 L1059.0,287.9 L1060.0,288.1 L1061.0,288.3 L1062.0,288.7 L1063.0,289.1 L1064.0,289.5 L1065.0,290.1 L1066.0,290.7 L1067.0,291.3 L1068.0,292.0 L1069.0,292.8 L1070.0,293.6 L1071.0,294.4 L1072.0,295.3 L1073.0,296.3 L1074.0,297.3 L1075.0,298.4 L1076.0,299.6 L1077.0,300.9 L1078.0,302.2 L1079.0,303.6 L1080.0,305.1 L1081.0,306.7 L1082.0,308.5 L1083.0,310.3 L1084.0,312.2 L1085.0,314.2 L1086.0,316.4 L1087.0,318.6 L1088.0,320.9 L1089.0,323.3 L1090.0,325.8 L1091.0,328.4 L1092.0,331.0 L1093.0,333.8 L1094.0,336.5 L1095.0,339.4 L1096.0,342.2 L1097.0,345.1 L1098.0,348.0 L1099.0,350.9 L1100.0,353.9 L1101.0,356.8 L1102.0,359.9 L1103.0,362.9 L1104.0,366.0 L1105.0,369.1 L1106.0,372.2 L1107.0,375.4 L1108.0,378.5 L1109.0,381.8 L1110.0,385.0 L1111.0,388.3 L1112.0,391.6 L1113.0,394.9 L1114.0,398.3 L1115.0,401.7 L1116.0,405.1 L1117.0,408.6 L1118.0,412.0 L1119.0,415.6 L1120.0,419.1 L1121.0,422.7 L1122.0,426.3 L1123.0,429.9 L1124.0,433.6 L1125.0,437.3 L1126.0,441.0 L1127.0,444.7 L1128.0,448.5 L1129.0,452.3 L1130.0,456.2 L1131.0,460.0 L1132.0,463.9 L1133.0,467.8 L1134.0,471.7 L1135.0,475.7 L1136.0,479.7 L1137.0,483.7 L1138.0,487.7 L1139.0,491.7 L1140.0,495.8 L1141.0,499.9 L1142.0,503.9 L1143.0,508.0 L1144.0,512.2 L1145.0,516.3 L1146.0,520.4 L1147.0,524.6 L1148.0,528.7 L1149.0,532.9 L1150.0,537.1 L1151.0,541.2 L1152.0,545.4 L1153.0,549.6 L1154.0,553.8 L1155.0,557.9 L1156.0,562.1 L1157.0,566.3 L1158.0,570.4 L1159.0,574.6 L1160.0,578.7 L1161.0,582.8 L1162.0,586.9 L1163.0,591.0 L1164.0,595.1 L1165.0,599.2 L1166.0,603.2 L1167.0,607.3 L1168.0,611.3 L1169.0,615.3 L1170.0,619.2 L1171.0,623.2 L1172.0,627.1 L1173.0,631.0 L1174.0,634.9 L1175.0,638.7 L1176.0,642.5 L1177.0,646.3 L1178.0,650.1 L1179.0,653.8 L1180.0,657.5 L1181.0,661.2 L1182.0,664.9 L1183.0,668.5 L1184.0,672.1 L1185.0,675.6 L1186.0,679.2 L1187.0,682.7 L1188.0,686.1 L1189.0,689.6 L1190.0,693.0 L1191.0,696.4 L1192.0,699.7 L1193.0,703.1 L1194.0,706.3 L1195.0,709.6 L1196.0,712.8 L1197.0,716.0 L1198.0,719.2 L1199.0,722.3 L1200.0,725.5 L1201.0,728.5 L1202.0,731.6 L1203.0,734.6 L1204.0,737.6 L1205.0,740.5 L1206.0,743.4 L1207.0,746.3 L1208.0,749.1 L1209.0,751.9 L1210.0,754.6 L1211.0,757.4 L1212.0,760.1 L1213.0,762.7 L1214.0,765.3 L1215.0,767.9 L1216.0,770.4 L1217.0,772.9 L1218.0,775.4 L1219.0,777.8 L1220.0,780.2 L1221.0,782.6 L1222.0,784.9 L1223.0,787.2 L1224.0,789.5 L1225.0,791.7 L1226.0,794.0 L1227.0,796.1 L1228.0,798.3 L1229.0,800.4 L1230.0,802.5 L1231.0,804.5 L1232.0,806.6 L1233.0,808.6 L1234.0,810.6 L1235.0,812.5 L1236.0,814.4 L1237.0,816.3 L1238.0,818.2 L1239.0,820.0 L1240.0,821.8 L1241.0,823.6 L1242.0,825.3 L1243.0,827.0 L1244.0,828.7 L1245.0,830.4 L1246.0,832.0 L1247.0,833.6 L1248.0,835.2 L1249.0,836.8 L1250.0,838.3 L1251.0,839.8 L1252.0,841.3 L1253.0,842.8 L1254.0,844.2 L1255.0,845.6 L1256.0,847.0 L1257.0,848.4 L1258.0,849.8 L1259.0,851.1 L1260.0,852.4 L1261.0,853.7 L1262.0,854.9 L1263.0,856.2 L1264.0,857.4 L1265.0,858.6 L1266.0,859.8 L1267.0,860.9 L1268.0,862.1 L1269.0,863.2 L1270.0,864.3 L1271.0,865.4 L1272.0,866.4 L1273.0,867.5 L1274.0,868.5 L1275.0,869.5 L1276.0,870.5 L1277.0,871.5 L1278.0,872.4 L1279.0,873.4 L1280.0,874.3 L1281.0,875.2 L1282.0,876.1 L1283.0,877.0 L1284.0,877.8 L1285.0,878.7 L1286.0,879.5 L1287.0,880.3 L1288.0,881.1 L1289.0,881.9 L1290.0,882.7 L1291.0,883.4 L1292.0,884.2 L1293.0,884.9 L1294.0,885.6 L1295.0,886.3 L1296.0,887.0 L1297.0,887.7 L1298.0,888.3 L1299.0,889.0 L1300.0,889.6 L1301.0,890.2 L1302.0,890.8 L1303.0,891.4 L1304.0,892.0 L1305.0,892.6 L1306.0,893.2 L1307.0,893.7 L1308.0,894.2 L1309.0,894.8 L1310.0,895.3 L1311.0,895.8 L1312.0,896.3 L1313.0,896.8 L1314.0,897.2 L1315.0,897.7 L1316.0,898.1 L1317.0,898.6 L1318.0,899.0 L1319.0,899.4 L1320.0,899.8 L1321.0,900.2 L1322.0,900.6 L1323.0,901.0 L1324.0,901.4 L1325.0,901.7 L1326.0,902.1 L1327.0,902.4 L1328.0,902.7 L1329.0,903.1 L1330.0,903.4 L1331.0,903.7 L1332.0,904.0 L1333.0,904.3 L1334.0,904.6 L1335.0,904.9 L1336.0,905.2 L1337.0,905.5 L1338.0,905.8 L1339.0,906.1 L1340.0,906.4 L1341.0,906.7 L1342.0,907.0 L1343.0,907.3 L1344.0,907.6 L1345.0,907.9 L1346.0,908.2 L1347.0,908.5 L1348.0,908.8 L1349.0,909.0 L1350.0,909.3 L1351.0,909.5 L1352.0,909.8 L1353.0,910.0 L1354.0,910.2 L1355.0,910.4 L1356.0,910.6 L1357.0,910.8 L1358.0,911.0 L1359.0,911.2 L1360.0,911.3 L1361.0,911.5 L1362.0,911.7 L1363.0,911.8 L1364.0,912.0 L1365.0,912.1 L1366.0,912.3 L1367.0,912.4 L1368.0,912.6 L1369.0,912.7 L1370.0,912.8 L1371.0,913.0 L1372.0,913.1 L1373.0,913.2 L1374.0,913.3 L1375.0,913.4 L1376.0,913.5 L1377.0,913.7 L1378.0,913.8 L1379.0,913.9 L1380.0,913.9 L1381.0,914.0 L1382.0,914.1 L1383.0,914.2 L1384.0,914.3 L1385.0,914.4 L1386.0,914.4 L1387.0,914.5 L1388.0,914.6 L1389.0,914.7 L1390.0,914.7 L1391.0,914.8 L1392.0,914.9 L1393.0,915.0 L1394.0,915.0 L1395.0,915.1 L1396.0,915.2 L1397.0,915.3 L1398.0,915.3 L1399.0,915.4 L1400.0,915.5 L1401.0,915.5 L1402.0,915.6 L1403.0,915.6 L1404.0,915.7 L1405.0,915.8 L1406.0,915.8 L1407.0,915.9 L1408.0,915.9 L1409.0,916.0 L1410.0,916.1 L1411.0,916.1 L1412.0,916.2 L1413.0,916.2 L1414.0,916.3 L1415.0,916.3 L1416.0,916.3 L1417.0,916.4 L1418.0,916.4 L1419.0,916.5 L1420.0,916.5 L1421.0,916.5 L1422.0,916.5 L1423.0,916.6 L1424.0,916.6 L1425.0,916.6 L1426.0,916.6 L1427.0,916.7 L1428.0,916.7 L1429.0,916.7 L1430.0,916.7 L1431.0,916.7 L1432.0,916.7 L1433.0,916.7 L1434.0,916.7 L1435.0,916.7 L1436.0,916.7 L1437.0,916.8 L1438.0,916.8 L1439.0,916.8 L1440.0,916.8 L1441.0,916.8 L1442.0,916.8 L1443.0,916.8 L1444.0,916.8 L1445.0,916.8 L1446.0,916.8 L1447.0,916.8 L1448.0,916.8 L1449.0,916.8 L1450.0,916.8 L1451.0,916.8 L1452.0,916.9 L1453.0,916.9 L1454.0,916.9 L1455.0,916.9 L1456.0,916.9 L1457.0,916.9 L1458.0,916.9 L1459.0,916.9 L1460.0,916.9 L1461.0,916.9 L1462.0,916.9 L1463.0,916.9 L1464.0,916.9 L1465.0,916.9 L1466.0,916.9 L1467.0,916.9 L1468.0,916.9 L1469.0,916.9 L1470.0,916.9 L1471.0,916.9 L1472.0,916.9 L1473.0,916.9 L1474.0,916.9 L1475.0,916.9 L1476.0,916.9 L1477.0,917.0 L1478.0,917.0 L1479.0,917.0 L1480.0,917.0 L1481.0,917.0 L1482.0,917.0 L1483.0,917.0 L1484.0,917.0 L1485.0,917.0 L1486.0,917.0 L1487.0,917.0 L1488.0,917.0 L1489.0,917.0 L1490.0,917.0 L1491.0,917.0 L1492.0,917.0 L1493.0,917.0 L1494.0,917.0 L1495.0,917.0 L1496.0,917.0 L1497.0,917.0 L1498.0,917.0 L1499.0,917.0 L1500.0,917.0 L1501.0,917.0 L1502.0,917.0 L1503.0,917.0 L1504.0,917.0 L1505.0,917.0 L1506.0,917.0 L1507.0,917.0 L1508.0,917.0 L1509.0,917.0 L1510.0,917.0 L1511.0,917.0 L1512.0,917.0 L1513.0,917.0 L1514.0,917.0 L1515.0,917.0 L1516.0,917.0 L1517.0,917.0 L1518.0,917.0 L1519.0,917.0 L1520.0,917.0 L1521.0,917.0 L1522.0,917.0 L1523.0,917.0 L1524.0,917.0 L1525.0,917.0 L1526.0,917.0 L1527.0,917.0 L1528.0,917.0 L1529.0,917.0 L1530.0,917.0 L1531.0,917.0 L1532.0,917.0 L1533.0,917.0 L1534.0,917.0 L1535.0,917.0 L1536.0,917.0 L1537.0,917.0 L1538.0,917.1 L1539.0,917.1 L1540.0,917.1 L1541.0,917.1 L1542.0,917.1 L1543.0,917.1 L1544.0,917.1 L1545.0,917.1 L1546.0,917.1 L1547.0,917.1 L1548.0,917.1 L1549.0,917.1 L1550.0,917.1 L1551.0,917.1 L1552.0,917.1 L1553.0,917.1 L1554.0,917.1 L1555.0,917.1 L1556.0,917.1 L1557.0,917.1 L1558.0,917.1 L1559.0,917.1 L1560.0,917.1 L1561.0,917.1 L1562.0,917.1 L1563.0,917.1 L1564.0,917.1 L1565.0,917.1 L1566.0,917.1 L1567.0,917.1 L1568.0,917.1 L1569.0,917.1 L1570.0,917.1 L1571.0,917.1 L1572.0,917.1 L1573.0,917.1 L1574.0,917.1 L1575.0,917.1 L1576.0,917.1 L1577.0,917.1 L1578.0,917.1 L1579.0,917.1 L1580.0,917.1 L1581.0,917.1 L1582.0,917.1 L1583.0,917.1 L1584.0,917.1 L1585.0,917.1 L1586.0,917.1 L1587.0,917.1 L1588.0,917.1 L1589.0,917.1 L1590.0,917.1 L1591.0,917.1 L1592.0,917.1 L1593.0,917.1 L1594.0,917.1 L1595.0,917.1 L1596.0,917.1 L1597.0,917.1 L1598.0,917.1 L1599.0,917.1 L1600.0,917.1 L1601.0,917.1 L1602.0,917.1 L1603.0,917.1 L1604.0,917.1 L1605.0,917.1 L1606.0,917.1 L1607.0,917.1 L1608.0,917.1 L1609.0,917.1 L1610.0,917.1 L1611.0,917.1 L1612.0,917.1 L1613.0,917.1 L1614.0,917.1 L1615.0,917.1 L1616.0,917.1 L1617.0,917.1 L1618.0,917.1 L1619.0,917.1 L1620.0,917.1 L1621.0,917.1 L1622.0,917.1 L1623.0,917.1 L1624.0,917.1 L1625.0,917.1 L1626.0,917.1 L1627.0,917.1 L1628.0,917.1 L1629.0,917.1 L1630.0,917.1 L1631.0,917.1 L1632.0,917.1 L1633.0,917.1 L1634.0,917.1 L1635.0,917.1 L1636.0,917.1 L1637.0,917.1 L1638.0,917.1 L1639.0,917.2 L1640.0,917.2 L1641.0,917.2 L1642.0,917.2 L1643.0,917.2 L1644.0,917.2 L1645.0,917.2 L1646.0,917.2 L1647.0,917.2 L1648.0,917.2 L1649.0,917.2 L1650.0,917.2 L1651.0,917.2 L1652.0,917.2 L1653.0,917.2 L1654.0,917.2 L1655.0,917.2 L1656.0,917.2 L1657.0,917.2 L1658.0,917.2 L1659.0,917.2 L1660.0,917.2 L1661.0,917.2 L1662.0,917.2 L1663.0,917.2 L1664.0,917.2 L1665.0,917.2 L1666.0,917.2 L1667.0,917.2 L1668.0,917.2 L1669.0,917.2 L1670.0,917.2 L1671.0,917.2 L1672.0,917.2 L1673.0,917.2 L1674.0,917.2 L1675.0,917.2 L1676.0,917.2 L1677.0,917.2 L1678.0,917.2 L1679.0,917.2 L1680.0,917.2 L1681.0,917.2 L1682.0,917.2 L1683.0,917.2 L1684.0,917.2 L1685.0,917.2 L1686.0,917.2 L1687.0,917.2 L1688.0,917.2 L1689.0,917.2 L1690.0,917.2 L1691.0,917.2 L1692.0,917.2 L1693.0,917.2 L1694.0,917.2 L1695.0,917.2 L1696.0,917.2 L1697.0,917.2 L1698.0,917.2 L1699.0,917.2 L1700.0,917.2 L1701.0,917.2 L1702.0,917.2 L1703.0,917.2 L1704.0,917.2 L1705.0,917.2 L1706.0,917.2 L1707.0,917.2 L1708.0,917.2 L1709.0,917.2 L1710.0,917.2 L1711.0,917.2 L1712.0,917.2 L1713.0,917.2 L1714.0,917.2 L1715.0,917.2 L1716.0,917.2 L1717.0,917.2 L1718.0,917.2 L1719.0,917.2 L1720.0,917.2 L1721.0,917.2 L1722.0,917.2 L1723.0,917.2 L1724.0,917.2 L1725.0,917.2 L1726.0,917.2 L1727.0,917.2 L1728.0,917.2 L1729.0,917.2 L1730.0,917.2 L1731.0,917.2 L1732.0,917.2 L1733.0,917.2 L1734.0,917.2 L1735.0,917.2 L1736.0,917.2 L1737.0,917.2 L1738.0,917.2 L1739.0,917.2 L1740.0,917.2 L1741.0,917.2 L1742.0,917.2 L1743.0,917.2 L1744.0,917.2 L1745.0,917.2 L1746.0,917.2 L1747.0,917.2 L1748.0,917.2 L1749.0,917.2 L1750.0,917.2 L1751.0,917.2 L1752.0,917.2 L1753.0,917.2 L1754.0,917.2 L1755.0,917.2 L1756.0,917.2 L1757.0,917.2 L1758.0,917.2 L1759.0,917.2 L1760.0,917.2 L1761.0,917.2 L1762.0,917.2 L1763.0,917.2 L1764.0,917.2 L1765.0,917.2 L1766.0,917.2 L1767.0,917.2 L1768.0,917.2 L1769.0,917.2 L1770.0,917.2 L1771.0,917.2 L1772.0,917.2 L1773.0,917.2 L1774.0,917.2 L1775.0,917.2 L1776.0,917.2 L1776.7,917.2" stroke="#EFA387"/>
</g>
<!-- legend -->
<g fill="none" stroke-width="13.0" stroke-linecap="round">
<path d="M1354,93.4 H1568.6" stroke="#3F65AC"/>
<path d="M1354,165.6 H1568.6" stroke="#FF0000" stroke-dasharray="26 26"/>
<path d="M1354,236 H1568.6" stroke="#E3A600" stroke-dasharray="0 26"/>
<path d="M1354,308 H1568.6" stroke="#5E9B3C" stroke-dasharray="39 52"/>
<path d="M1354,378.8 H1568.6" stroke="#EFA387"/>
</g>

</svg>
</body></html>
